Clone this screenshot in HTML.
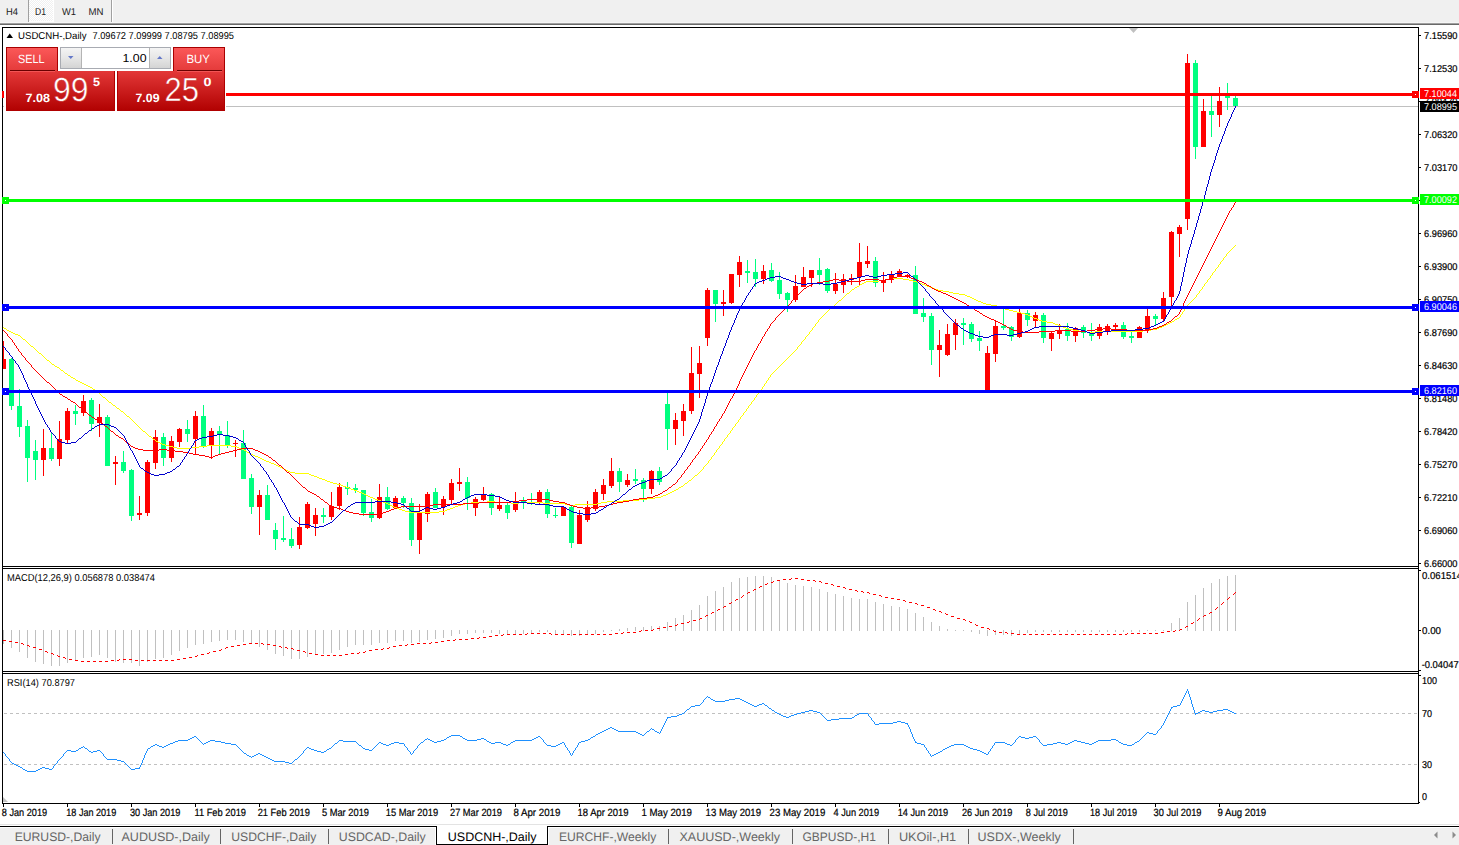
<!DOCTYPE html><html><head><meta charset="utf-8"><style>
html,body{margin:0;padding:0;background:#f0f0f0;width:1459px;height:845px;overflow:hidden}
svg{display:block}
text{font-family:"Liberation Sans",sans-serif;text-rendering:geometricPrecision}
</style></head><body>
<svg width="1459" height="845" viewBox="0 0 1459 845">
<defs>
<pattern id="chk" width="2" height="2" patternUnits="userSpaceOnUse"><rect width="2" height="2" fill="#f0f0f0"/><rect width="1" height="1" fill="#ffffff"/><rect x="1" y="1" width="1" height="1" fill="#ffffff"/></pattern>
<linearGradient id="gTop" x1="0" y1="0" x2="0" y2="1"><stop offset="0" stop-color="#fb5858"/><stop offset="1" stop-color="#e43a3a"/></linearGradient>
<linearGradient id="gBot" x1="0" y1="0" x2="0" y2="1"><stop offset="0" stop-color="#e33838"/><stop offset="1" stop-color="#b20202"/></linearGradient>
<linearGradient id="gBtn" x1="0" y1="0" x2="0" y2="1"><stop offset="0" stop-color="#f4f4f4"/><stop offset="0.5" stop-color="#e6e6e6"/><stop offset="1" stop-color="#d4d4d4"/></linearGradient>
</defs>
<rect x="0" y="0" width="1459" height="22" fill="#f0f0f0"/>
<rect x="29" y="0" width="24" height="21" fill="url(#chk)"/>
<rect x="53" y="0" width="1" height="22" fill="#ffffff"/><rect x="28" y="21" width="26" height="1" fill="#ffffff"/>
<rect x="28" y="0" width="1" height="22" fill="#a0a0a0"/>
<rect x="111" y="0" width="1" height="22" fill="#a0a0a0"/><rect x="112" y="0" width="1" height="22" fill="#ffffff"/>
<rect x="0" y="22" width="1459" height="1" fill="#f6f6f6"/>
<rect x="0" y="23" width="1459" height="1" fill="#a0a0a0"/>
<rect x="0" y="24" width="1459" height="1" fill="#696969"/>
<text x="6" y="15" font-size="10" fill="#222" textLength="12" lengthAdjust="spacingAndGlyphs">H4</text>
<text x="35" y="15" font-size="10" fill="#222" textLength="11" lengthAdjust="spacingAndGlyphs">D1</text>
<text x="62" y="15" font-size="10" fill="#222" textLength="14" lengthAdjust="spacingAndGlyphs">W1</text>
<text x="88.5" y="15" font-size="10" fill="#222" textLength="15" lengthAdjust="spacingAndGlyphs">MN</text>
<rect x="0" y="25" width="1459" height="799" fill="#ffffff"/>
<defs><clipPath id="cMain"><rect x="3" y="28" width="1415" height="538"/></clipPath><clipPath id="cMacd"><rect x="3" y="569" width="1415" height="102"/></clipPath><clipPath id="cRsi"><rect x="3" y="674" width="1415" height="129"/></clipPath></defs>
<rect x="3" y="106" width="1415" height="1" fill="#c0c0c0" shape-rendering="crispEdges"/>
<g clip-path="url(#cMain)" shape-rendering="crispEdges">
<rect x="3" y="341" width="1" height="28" fill="#ff0000"/>
<rect x="1" y="359" width="5" height="10" fill="#ff0000"/>
<rect x="11" y="358" width="1" height="52" fill="#00ff7f"/>
<rect x="9" y="359" width="5" height="47" fill="#00ff7f"/>
<rect x="19" y="389" width="1" height="48" fill="#00ff7f"/>
<rect x="17" y="406" width="5" height="21" fill="#00ff7f"/>
<rect x="27" y="420" width="1" height="62" fill="#00ff7f"/>
<rect x="25" y="426" width="5" height="32" fill="#00ff7f"/>
<rect x="35" y="440" width="1" height="40" fill="#00ff7f"/>
<rect x="33" y="451" width="5" height="9" fill="#00ff7f"/>
<rect x="43" y="429" width="1" height="47" fill="#ff0000"/>
<rect x="41" y="448" width="5" height="12" fill="#ff0000"/>
<rect x="51" y="432" width="1" height="29" fill="#00ff7f"/>
<rect x="49" y="448" width="5" height="11" fill="#00ff7f"/>
<rect x="59" y="421" width="1" height="45" fill="#ff0000"/>
<rect x="57" y="439" width="5" height="20" fill="#ff0000"/>
<rect x="67" y="408" width="1" height="36" fill="#ff0000"/>
<rect x="65" y="411" width="5" height="29" fill="#ff0000"/>
<rect x="75" y="405" width="1" height="20" fill="#00ff7f"/>
<rect x="73" y="411" width="5" height="3" fill="#00ff7f"/>
<rect x="83" y="395" width="1" height="21" fill="#ff0000"/>
<rect x="81" y="401" width="5" height="12" fill="#ff0000"/>
<rect x="91" y="398" width="1" height="33" fill="#00ff7f"/>
<rect x="89" y="400" width="5" height="24" fill="#00ff7f"/>
<rect x="99" y="404" width="1" height="33" fill="#ff0000"/>
<rect x="97" y="417" width="5" height="6" fill="#ff0000"/>
<rect x="107" y="415" width="1" height="51" fill="#00ff7f"/>
<rect x="105" y="417" width="5" height="49" fill="#00ff7f"/>
<rect x="115" y="456" width="1" height="29" fill="#ff0000"/>
<rect x="113" y="462" width="5" height="2" fill="#ff0000"/>
<rect x="123" y="451" width="1" height="22" fill="#00ff7f"/>
<rect x="121" y="462" width="5" height="9" fill="#00ff7f"/>
<rect x="131" y="469" width="1" height="52" fill="#00ff7f"/>
<rect x="129" y="470" width="5" height="46" fill="#00ff7f"/>
<rect x="139" y="496" width="1" height="24" fill="#ff0000"/>
<rect x="137" y="513" width="5" height="2" fill="#ff0000"/>
<rect x="147" y="460" width="1" height="56" fill="#ff0000"/>
<rect x="145" y="462" width="5" height="51" fill="#ff0000"/>
<rect x="155" y="430" width="1" height="39" fill="#ff0000"/>
<rect x="153" y="437" width="5" height="26" fill="#ff0000"/>
<rect x="163" y="433" width="1" height="33" fill="#00ff7f"/>
<rect x="161" y="437" width="5" height="21" fill="#00ff7f"/>
<rect x="171" y="436" width="1" height="26" fill="#ff0000"/>
<rect x="169" y="441" width="5" height="17" fill="#ff0000"/>
<rect x="179" y="428" width="1" height="19" fill="#ff0000"/>
<rect x="177" y="429" width="5" height="13" fill="#ff0000"/>
<rect x="187" y="420" width="1" height="22" fill="#00ff7f"/>
<rect x="185" y="429" width="5" height="5" fill="#00ff7f"/>
<rect x="195" y="411" width="1" height="43" fill="#ff0000"/>
<rect x="193" y="416" width="5" height="23" fill="#ff0000"/>
<rect x="203" y="405" width="1" height="43" fill="#00ff7f"/>
<rect x="201" y="416" width="5" height="30" fill="#00ff7f"/>
<rect x="211" y="428" width="1" height="31" fill="#ff0000"/>
<rect x="209" y="431" width="5" height="15" fill="#ff0000"/>
<rect x="219" y="426" width="1" height="28" fill="#00ff7f"/>
<rect x="217" y="431" width="5" height="4" fill="#00ff7f"/>
<rect x="227" y="421" width="1" height="27" fill="#00ff7f"/>
<rect x="225" y="435" width="5" height="11" fill="#00ff7f"/>
<rect x="235" y="440" width="1" height="17" fill="#ff0000"/>
<rect x="233" y="443" width="5" height="1" fill="#ff0000"/>
<rect x="243" y="430" width="1" height="49" fill="#00ff7f"/>
<rect x="241" y="443" width="5" height="36" fill="#00ff7f"/>
<rect x="251" y="474" width="1" height="40" fill="#00ff7f"/>
<rect x="249" y="478" width="5" height="29" fill="#00ff7f"/>
<rect x="259" y="490" width="1" height="45" fill="#ff0000"/>
<rect x="257" y="495" width="5" height="12" fill="#ff0000"/>
<rect x="267" y="485" width="1" height="35" fill="#00ff7f"/>
<rect x="265" y="495" width="5" height="25" fill="#00ff7f"/>
<rect x="275" y="523" width="1" height="27" fill="#00ff7f"/>
<rect x="273" y="530" width="5" height="9" fill="#00ff7f"/>
<rect x="283" y="516" width="1" height="26" fill="#00ff7f"/>
<rect x="281" y="538" width="5" height="2" fill="#00ff7f"/>
<rect x="291" y="528" width="1" height="20" fill="#00ff7f"/>
<rect x="289" y="539" width="5" height="7" fill="#00ff7f"/>
<rect x="299" y="517" width="1" height="32" fill="#ff0000"/>
<rect x="297" y="527" width="5" height="18" fill="#ff0000"/>
<rect x="307" y="502" width="1" height="27" fill="#ff0000"/>
<rect x="305" y="504" width="5" height="24" fill="#ff0000"/>
<rect x="315" y="508" width="1" height="28" fill="#ff0000"/>
<rect x="313" y="515" width="5" height="9" fill="#ff0000"/>
<rect x="323" y="508" width="1" height="15" fill="#00ff7f"/>
<rect x="321" y="515" width="5" height="2" fill="#00ff7f"/>
<rect x="331" y="492" width="1" height="28" fill="#ff0000"/>
<rect x="329" y="506" width="5" height="11" fill="#ff0000"/>
<rect x="339" y="483" width="1" height="27" fill="#ff0000"/>
<rect x="337" y="487" width="5" height="19" fill="#ff0000"/>
<rect x="347" y="482" width="1" height="13" fill="#00ff7f"/>
<rect x="345" y="487" width="5" height="2" fill="#00ff7f"/>
<rect x="355" y="484" width="1" height="9" fill="#00ff7f"/>
<rect x="353" y="488" width="5" height="2" fill="#00ff7f"/>
<rect x="363" y="490" width="1" height="26" fill="#00ff7f"/>
<rect x="361" y="490" width="5" height="23" fill="#00ff7f"/>
<rect x="371" y="499" width="1" height="23" fill="#00ff7f"/>
<rect x="369" y="512" width="5" height="6" fill="#00ff7f"/>
<rect x="379" y="484" width="1" height="35" fill="#ff0000"/>
<rect x="377" y="497" width="5" height="21" fill="#ff0000"/>
<rect x="387" y="487" width="1" height="23" fill="#00ff7f"/>
<rect x="385" y="497" width="5" height="12" fill="#00ff7f"/>
<rect x="395" y="496" width="1" height="13" fill="#ff0000"/>
<rect x="393" y="498" width="5" height="10" fill="#ff0000"/>
<rect x="403" y="496" width="1" height="12" fill="#00ff7f"/>
<rect x="401" y="498" width="5" height="5" fill="#00ff7f"/>
<rect x="411" y="498" width="1" height="48" fill="#00ff7f"/>
<rect x="409" y="503" width="5" height="37" fill="#00ff7f"/>
<rect x="419" y="504" width="1" height="50" fill="#ff0000"/>
<rect x="417" y="513" width="5" height="27" fill="#ff0000"/>
<rect x="427" y="492" width="1" height="30" fill="#ff0000"/>
<rect x="425" y="494" width="5" height="20" fill="#ff0000"/>
<rect x="435" y="488" width="1" height="20" fill="#00ff7f"/>
<rect x="433" y="492" width="5" height="16" fill="#00ff7f"/>
<rect x="443" y="496" width="1" height="19" fill="#ff0000"/>
<rect x="441" y="499" width="5" height="8" fill="#ff0000"/>
<rect x="451" y="479" width="1" height="25" fill="#ff0000"/>
<rect x="449" y="483" width="5" height="17" fill="#ff0000"/>
<rect x="459" y="468" width="1" height="23" fill="#ff0000"/>
<rect x="457" y="482" width="5" height="2" fill="#ff0000"/>
<rect x="467" y="477" width="1" height="33" fill="#00ff7f"/>
<rect x="465" y="482" width="5" height="16" fill="#00ff7f"/>
<rect x="475" y="497" width="1" height="19" fill="#ff0000"/>
<rect x="473" y="499" width="5" height="9" fill="#ff0000"/>
<rect x="483" y="487" width="1" height="14" fill="#ff0000"/>
<rect x="481" y="495" width="5" height="5" fill="#ff0000"/>
<rect x="491" y="493" width="1" height="22" fill="#00ff7f"/>
<rect x="489" y="494" width="5" height="14" fill="#00ff7f"/>
<rect x="499" y="496" width="1" height="15" fill="#ff0000"/>
<rect x="497" y="505" width="5" height="4" fill="#ff0000"/>
<rect x="507" y="503" width="1" height="16" fill="#00ff7f"/>
<rect x="505" y="505" width="5" height="8" fill="#00ff7f"/>
<rect x="515" y="492" width="1" height="20" fill="#ff0000"/>
<rect x="513" y="504" width="5" height="6" fill="#ff0000"/>
<rect x="523" y="497" width="1" height="12" fill="#00ff7f"/>
<rect x="521" y="501" width="5" height="2" fill="#00ff7f"/>
<rect x="531" y="493" width="1" height="12" fill="#00ff7f"/>
<rect x="529" y="502" width="5" height="1" fill="#00ff7f"/>
<rect x="539" y="490" width="1" height="15" fill="#ff0000"/>
<rect x="537" y="492" width="5" height="11" fill="#ff0000"/>
<rect x="547" y="489" width="1" height="29" fill="#00ff7f"/>
<rect x="545" y="492" width="5" height="22" fill="#00ff7f"/>
<rect x="555" y="508" width="1" height="10" fill="#00ff7f"/>
<rect x="553" y="515" width="5" height="1" fill="#00ff7f"/>
<rect x="563" y="506" width="1" height="10" fill="#ff0000"/>
<rect x="561" y="507" width="5" height="9" fill="#ff0000"/>
<rect x="571" y="506" width="1" height="42" fill="#00ff7f"/>
<rect x="569" y="507" width="5" height="36" fill="#00ff7f"/>
<rect x="579" y="510" width="1" height="34" fill="#ff0000"/>
<rect x="577" y="515" width="5" height="29" fill="#ff0000"/>
<rect x="587" y="501" width="1" height="21" fill="#ff0000"/>
<rect x="585" y="507" width="5" height="13" fill="#ff0000"/>
<rect x="595" y="489" width="1" height="22" fill="#ff0000"/>
<rect x="593" y="492" width="5" height="17" fill="#ff0000"/>
<rect x="603" y="479" width="1" height="21" fill="#ff0000"/>
<rect x="601" y="485" width="5" height="9" fill="#ff0000"/>
<rect x="611" y="458" width="1" height="30" fill="#ff0000"/>
<rect x="609" y="471" width="5" height="15" fill="#ff0000"/>
<rect x="619" y="468" width="1" height="24" fill="#00ff7f"/>
<rect x="617" y="471" width="5" height="11" fill="#00ff7f"/>
<rect x="627" y="474" width="1" height="13" fill="#ff0000"/>
<rect x="625" y="480" width="5" height="5" fill="#ff0000"/>
<rect x="635" y="469" width="1" height="15" fill="#00ff7f"/>
<rect x="633" y="479" width="5" height="2" fill="#00ff7f"/>
<rect x="643" y="478" width="1" height="24" fill="#00ff7f"/>
<rect x="641" y="480" width="5" height="9" fill="#00ff7f"/>
<rect x="651" y="470" width="1" height="24" fill="#ff0000"/>
<rect x="649" y="471" width="5" height="18" fill="#ff0000"/>
<rect x="659" y="467" width="1" height="18" fill="#00ff7f"/>
<rect x="657" y="471" width="5" height="11" fill="#00ff7f"/>
<rect x="667" y="392" width="1" height="58" fill="#00ff7f"/>
<rect x="665" y="404" width="5" height="25" fill="#00ff7f"/>
<rect x="675" y="413" width="1" height="32" fill="#ff0000"/>
<rect x="673" y="420" width="5" height="9" fill="#ff0000"/>
<rect x="683" y="404" width="1" height="32" fill="#ff0000"/>
<rect x="681" y="411" width="5" height="10" fill="#ff0000"/>
<rect x="691" y="347" width="1" height="67" fill="#ff0000"/>
<rect x="689" y="373" width="5" height="38" fill="#ff0000"/>
<rect x="699" y="346" width="1" height="52" fill="#ff0000"/>
<rect x="697" y="363" width="5" height="11" fill="#ff0000"/>
<rect x="707" y="288" width="1" height="58" fill="#ff0000"/>
<rect x="705" y="290" width="5" height="48" fill="#ff0000"/>
<rect x="715" y="290" width="1" height="32" fill="#00ff7f"/>
<rect x="713" y="290" width="5" height="14" fill="#00ff7f"/>
<rect x="723" y="290" width="1" height="26" fill="#ff0000"/>
<rect x="721" y="302" width="5" height="2" fill="#ff0000"/>
<rect x="731" y="274" width="1" height="30" fill="#ff0000"/>
<rect x="729" y="274" width="5" height="29" fill="#ff0000"/>
<rect x="739" y="256" width="1" height="31" fill="#ff0000"/>
<rect x="737" y="262" width="5" height="13" fill="#ff0000"/>
<rect x="747" y="260" width="1" height="23" fill="#00ff7f"/>
<rect x="745" y="271" width="5" height="2" fill="#00ff7f"/>
<rect x="755" y="259" width="1" height="28" fill="#00ff7f"/>
<rect x="753" y="272" width="5" height="7" fill="#00ff7f"/>
<rect x="763" y="265" width="1" height="19" fill="#ff0000"/>
<rect x="761" y="271" width="5" height="8" fill="#ff0000"/>
<rect x="771" y="263" width="1" height="19" fill="#00ff7f"/>
<rect x="769" y="270" width="5" height="11" fill="#00ff7f"/>
<rect x="779" y="272" width="1" height="27" fill="#00ff7f"/>
<rect x="777" y="280" width="5" height="14" fill="#00ff7f"/>
<rect x="787" y="292" width="1" height="20" fill="#00ff7f"/>
<rect x="785" y="293" width="5" height="7" fill="#00ff7f"/>
<rect x="795" y="275" width="1" height="27" fill="#ff0000"/>
<rect x="793" y="286" width="5" height="14" fill="#ff0000"/>
<rect x="803" y="267" width="1" height="20" fill="#ff0000"/>
<rect x="801" y="277" width="5" height="10" fill="#ff0000"/>
<rect x="811" y="270" width="1" height="17" fill="#ff0000"/>
<rect x="809" y="270" width="5" height="8" fill="#ff0000"/>
<rect x="819" y="258" width="1" height="27" fill="#00ff7f"/>
<rect x="817" y="270" width="5" height="5" fill="#00ff7f"/>
<rect x="827" y="268" width="1" height="25" fill="#00ff7f"/>
<rect x="825" y="269" width="5" height="22" fill="#00ff7f"/>
<rect x="835" y="273" width="1" height="21" fill="#ff0000"/>
<rect x="833" y="284" width="5" height="7" fill="#ff0000"/>
<rect x="843" y="274" width="1" height="19" fill="#ff0000"/>
<rect x="841" y="279" width="5" height="6" fill="#ff0000"/>
<rect x="851" y="274" width="1" height="11" fill="#ff0000"/>
<rect x="849" y="278" width="5" height="2" fill="#ff0000"/>
<rect x="859" y="243" width="1" height="42" fill="#ff0000"/>
<rect x="857" y="262" width="5" height="15" fill="#ff0000"/>
<rect x="867" y="246" width="1" height="22" fill="#ff0000"/>
<rect x="865" y="261" width="5" height="3" fill="#ff0000"/>
<rect x="875" y="257" width="1" height="30" fill="#00ff7f"/>
<rect x="873" y="261" width="5" height="22" fill="#00ff7f"/>
<rect x="883" y="272" width="1" height="20" fill="#ff0000"/>
<rect x="881" y="280" width="5" height="3" fill="#ff0000"/>
<rect x="891" y="271" width="1" height="12" fill="#ff0000"/>
<rect x="889" y="275" width="5" height="5" fill="#ff0000"/>
<rect x="899" y="269" width="1" height="8" fill="#ff0000"/>
<rect x="897" y="271" width="5" height="6" fill="#ff0000"/>
<rect x="907" y="274" width="1" height="4" fill="#ff0000"/>
<rect x="905" y="275" width="5" height="2" fill="#ff0000"/>
<rect x="915" y="266" width="1" height="48" fill="#00ff7f"/>
<rect x="913" y="275" width="5" height="39" fill="#00ff7f"/>
<rect x="923" y="298" width="1" height="24" fill="#00ff7f"/>
<rect x="921" y="313" width="5" height="4" fill="#00ff7f"/>
<rect x="931" y="313" width="1" height="52" fill="#00ff7f"/>
<rect x="929" y="316" width="5" height="34" fill="#00ff7f"/>
<rect x="939" y="330" width="1" height="47" fill="#ff0000"/>
<rect x="937" y="345" width="5" height="5" fill="#ff0000"/>
<rect x="947" y="324" width="1" height="32" fill="#ff0000"/>
<rect x="945" y="334" width="5" height="21" fill="#ff0000"/>
<rect x="955" y="319" width="1" height="31" fill="#ff0000"/>
<rect x="953" y="323" width="5" height="12" fill="#ff0000"/>
<rect x="963" y="318" width="1" height="27" fill="#00ff7f"/>
<rect x="961" y="323" width="5" height="2" fill="#00ff7f"/>
<rect x="971" y="322" width="1" height="20" fill="#00ff7f"/>
<rect x="969" y="324" width="5" height="15" fill="#00ff7f"/>
<rect x="979" y="331" width="1" height="20" fill="#00ff7f"/>
<rect x="977" y="338" width="5" height="3" fill="#00ff7f"/>
<rect x="987" y="346" width="1" height="44" fill="#ff0000"/>
<rect x="985" y="353" width="5" height="37" fill="#ff0000"/>
<rect x="995" y="321" width="1" height="41" fill="#ff0000"/>
<rect x="993" y="326" width="5" height="28" fill="#ff0000"/>
<rect x="1003" y="306" width="1" height="24" fill="#00ff7f"/>
<rect x="1001" y="326" width="5" height="2" fill="#00ff7f"/>
<rect x="1011" y="326" width="1" height="15" fill="#00ff7f"/>
<rect x="1009" y="327" width="5" height="10" fill="#00ff7f"/>
<rect x="1019" y="308" width="1" height="30" fill="#ff0000"/>
<rect x="1017" y="313" width="5" height="24" fill="#ff0000"/>
<rect x="1027" y="310" width="1" height="16" fill="#00ff7f"/>
<rect x="1025" y="313" width="5" height="7" fill="#00ff7f"/>
<rect x="1035" y="312" width="1" height="15" fill="#ff0000"/>
<rect x="1033" y="315" width="5" height="6" fill="#ff0000"/>
<rect x="1043" y="313" width="1" height="30" fill="#00ff7f"/>
<rect x="1041" y="315" width="5" height="23" fill="#00ff7f"/>
<rect x="1051" y="332" width="1" height="19" fill="#ff0000"/>
<rect x="1049" y="333" width="5" height="6" fill="#ff0000"/>
<rect x="1059" y="324" width="1" height="15" fill="#ff0000"/>
<rect x="1057" y="330" width="5" height="4" fill="#ff0000"/>
<rect x="1067" y="323" width="1" height="18" fill="#00ff7f"/>
<rect x="1065" y="329" width="5" height="7" fill="#00ff7f"/>
<rect x="1075" y="327" width="1" height="15" fill="#ff0000"/>
<rect x="1073" y="328" width="5" height="8" fill="#ff0000"/>
<rect x="1083" y="325" width="1" height="13" fill="#00ff7f"/>
<rect x="1081" y="327" width="5" height="6" fill="#00ff7f"/>
<rect x="1091" y="323" width="1" height="18" fill="#00ff7f"/>
<rect x="1089" y="333" width="5" height="3" fill="#00ff7f"/>
<rect x="1099" y="324" width="1" height="15" fill="#ff0000"/>
<rect x="1097" y="327" width="5" height="9" fill="#ff0000"/>
<rect x="1107" y="324" width="1" height="11" fill="#ff0000"/>
<rect x="1105" y="326" width="5" height="6" fill="#ff0000"/>
<rect x="1115" y="323" width="1" height="6" fill="#ff0000"/>
<rect x="1113" y="325" width="5" height="2" fill="#ff0000"/>
<rect x="1123" y="322" width="1" height="17" fill="#00ff7f"/>
<rect x="1121" y="325" width="5" height="12" fill="#00ff7f"/>
<rect x="1131" y="331" width="1" height="12" fill="#00ff7f"/>
<rect x="1129" y="336" width="5" height="2" fill="#00ff7f"/>
<rect x="1139" y="326" width="1" height="12" fill="#ff0000"/>
<rect x="1137" y="327" width="5" height="11" fill="#ff0000"/>
<rect x="1147" y="309" width="1" height="24" fill="#ff0000"/>
<rect x="1145" y="316" width="5" height="15" fill="#ff0000"/>
<rect x="1155" y="314" width="1" height="12" fill="#00ff7f"/>
<rect x="1153" y="316" width="5" height="3" fill="#00ff7f"/>
<rect x="1163" y="292" width="1" height="29" fill="#ff0000"/>
<rect x="1161" y="298" width="5" height="21" fill="#ff0000"/>
<rect x="1171" y="231" width="1" height="76" fill="#ff0000"/>
<rect x="1169" y="232" width="5" height="65" fill="#ff0000"/>
<rect x="1179" y="225" width="1" height="32" fill="#ff0000"/>
<rect x="1177" y="227" width="5" height="7" fill="#ff0000"/>
<rect x="1187" y="54" width="1" height="176" fill="#ff0000"/>
<rect x="1185" y="63" width="5" height="156" fill="#ff0000"/>
<rect x="1195" y="60" width="1" height="99" fill="#00ff7f"/>
<rect x="1193" y="63" width="5" height="84" fill="#00ff7f"/>
<rect x="1203" y="99" width="1" height="48" fill="#ff0000"/>
<rect x="1201" y="111" width="5" height="36" fill="#ff0000"/>
<rect x="1211" y="96" width="1" height="41" fill="#00ff7f"/>
<rect x="1209" y="111" width="5" height="4" fill="#00ff7f"/>
<rect x="1219" y="87" width="1" height="40" fill="#ff0000"/>
<rect x="1217" y="101" width="5" height="14" fill="#ff0000"/>
<rect x="1227" y="83" width="1" height="27" fill="#00ff7f"/>
<rect x="1225" y="96" width="5" height="2" fill="#00ff7f"/>
<rect x="1235" y="95" width="1" height="12" fill="#00ff7f"/>
<rect x="1233" y="98" width="5" height="8" fill="#00ff7f"/>
</g>
<g clip-path="url(#cMain)" shape-rendering="crispEdges">
<path d="M1235 245h1v1h-1zM1234 246h1v1h-1zM1233 247h1v1h-1zM1232 248h1v1h-1zM1231 249h1v1h-1zM1230 250h1v1h-1zM1229 251h1v1h-1zM1228 252h1v1h-1zM1227 253h1v1h-1zM1226 254h1v1h-1zM1226 255h1v1h-1zM1225 256h1v1h-1zM1224 257h1v1h-1zM1223 258h1v1h-1zM1223 259h1v1h-1zM1222 260h1v1h-1zM1221 261h1v1h-1zM1220 262h1v1h-1zM1220 263h1v1h-1zM1219 264h1v1h-1zM1218 265h1v1h-1zM1218 266h1v1h-1zM1217 267h1v1h-1zM1216 268h1v1h-1zM1215 269h1v1h-1zM1215 270h1v1h-1zM1214 271h1v1h-1zM1213 272h1v1h-1zM1212 273h1v1h-1zM1212 274h1v1h-1zM1211 275h1v1h-1zM1210 276h1v1h-1zM1210 277h1v1h-1zM889 278h14v1h-14zM1209 278h1v1h-1zM885 279h4v1h-4zM903 279h6v1h-6zM1208 279h1v1h-1zM879 280h6v1h-6zM909 280h4v1h-4zM1207 280h1v1h-1zM866 281h13v1h-13zM913 281h4v1h-4zM1207 281h1v1h-1zM864 282h2v1h-2zM917 282h2v1h-2zM1206 282h1v1h-1zM862 283h2v1h-2zM919 283h3v1h-3zM1205 283h1v1h-1zM860 284h2v1h-2zM922 284h3v1h-3zM1204 284h1v1h-1zM859 285h1v1h-1zM925 285h2v1h-2zM1204 285h1v1h-1zM857 286h2v1h-2zM927 286h3v1h-3zM1203 286h1v1h-1zM855 287h2v1h-2zM930 287h3v1h-3zM1202 287h1v1h-1zM854 288h1v1h-1zM933 288h2v1h-2zM1202 288h1v1h-1zM852 289h2v1h-2zM935 289h3v1h-3zM1201 289h1v1h-1zM851 290h1v1h-1zM938 290h5v1h-5zM1200 290h1v1h-1zM850 291h1v1h-1zM943 291h6v1h-6zM1199 291h1v1h-1zM849 292h1v1h-1zM949 292h4v1h-4zM1199 292h1v1h-1zM847 293h2v1h-2zM953 293h6v1h-6zM1198 293h1v1h-1zM846 294h1v1h-1zM959 294h6v1h-6zM1197 294h1v1h-1zM845 295h1v1h-1zM965 295h2v1h-2zM1196 295h1v1h-1zM844 296h1v1h-1zM967 296h3v1h-3zM1196 296h1v1h-1zM843 297h1v1h-1zM970 297h2v1h-2zM1195 297h1v1h-1zM842 298h1v1h-1zM972 298h2v1h-2zM1194 298h1v1h-1zM841 299h1v1h-1zM974 299h2v1h-2zM1193 299h1v1h-1zM839 300h2v1h-2zM976 300h2v1h-2zM1192 300h1v1h-1zM838 301h1v1h-1zM978 301h3v1h-3zM1191 301h1v1h-1zM837 302h1v1h-1zM981 302h2v1h-2zM1190 302h1v1h-1zM836 303h1v1h-1zM983 303h3v1h-3zM1189 303h1v1h-1zM835 304h1v1h-1zM986 304h5v1h-5zM1188 304h1v1h-1zM834 305h1v1h-1zM991 305h6v1h-6zM1187 305h1v1h-1zM833 306h1v1h-1zM997 306h2v1h-2zM1186 306h1v1h-1zM831 307h2v1h-2zM999 307h3v1h-3zM1186 307h1v1h-1zM830 308h1v1h-1zM1002 308h3v1h-3zM1185 308h1v1h-1zM829 309h1v1h-1zM1005 309h4v1h-4zM1184 309h1v1h-1zM828 310h1v1h-1zM1009 310h4v1h-4zM1184 310h1v1h-1zM827 311h1v1h-1zM1013 311h4v1h-4zM1183 311h1v1h-1zM826 312h1v1h-1zM1017 312h4v1h-4zM1182 312h1v1h-1zM825 313h1v1h-1zM1021 313h4v1h-4zM1182 313h1v1h-1zM824 314h1v1h-1zM1025 314h3v1h-3zM1181 314h1v1h-1zM823 315h1v1h-1zM1028 315h2v1h-2zM1180 315h1v1h-1zM822 316h1v1h-1zM1030 316h2v1h-2zM1180 316h1v1h-1zM821 317h1v1h-1zM1032 317h2v1h-2zM1179 317h1v1h-1zM820 318h1v1h-1zM1034 318h3v1h-3zM1177 318h2v1h-2zM819 319h1v1h-1zM1037 319h2v1h-2zM1175 319h2v1h-2zM818 320h1v1h-1zM1039 320h3v1h-3zM1174 320h1v1h-1zM818 321h1v1h-1zM1042 321h5v1h-5zM1172 321h2v1h-2zM817 322h1v1h-1zM1047 322h6v1h-6zM1170 322h2v1h-2zM816 323h1v1h-1zM1053 323h2v1h-2zM1168 323h2v1h-2zM815 324h1v1h-1zM1055 324h3v1h-3zM1166 324h2v1h-2zM815 325h1v1h-1zM1058 325h3v1h-3zM1164 325h2v1h-2zM814 326h1v1h-1zM1061 326h2v1h-2zM1162 326h2v1h-2zM3 327h1v1h-1zM813 327h1v1h-1zM1063 327h3v1h-3zM1159 327h3v1h-3zM4 328h2v1h-2zM812 328h1v1h-1zM1066 328h3v1h-3zM1157 328h2v1h-2zM6 329h1v1h-1zM812 329h1v1h-1zM1069 329h4v1h-4zM1151 329h6v1h-6zM7 330h2v1h-2zM811 330h1v1h-1zM1073 330h6v1h-6zM1143 330h8v1h-8zM9 331h2v1h-2zM810 331h1v1h-1zM1079 331h8v1h-8zM1095 331h48v1h-48zM11 332h2v1h-2zM809 332h1v1h-1zM1087 332h8v1h-8zM13 333h2v1h-2zM809 333h1v1h-1zM15 334h3v1h-3zM808 334h1v1h-1zM18 335h2v1h-2zM807 335h1v1h-1zM20 336h1v1h-1zM806 336h1v1h-1zM21 337h1v1h-1zM805 337h1v1h-1zM22 338h1v1h-1zM805 338h1v1h-1zM23 339h2v1h-2zM804 339h1v1h-1zM25 340h1v1h-1zM803 340h1v1h-1zM26 341h1v1h-1zM802 341h1v1h-1zM27 342h1v1h-1zM801 342h1v1h-1zM28 343h1v1h-1zM801 343h1v1h-1zM29 344h1v1h-1zM800 344h1v1h-1zM30 345h1v1h-1zM799 345h1v1h-1zM31 346h2v1h-2zM798 346h1v1h-1zM33 347h1v1h-1zM797 347h1v1h-1zM34 348h1v1h-1zM797 348h1v1h-1zM35 349h1v1h-1zM796 349h1v1h-1zM36 350h1v1h-1zM795 350h1v1h-1zM37 351h1v1h-1zM794 351h1v1h-1zM38 352h1v1h-1zM793 352h1v1h-1zM39 353h2v1h-2zM792 353h1v1h-1zM41 354h1v1h-1zM791 354h1v1h-1zM42 355h1v1h-1zM790 355h1v1h-1zM43 356h1v1h-1zM789 356h1v1h-1zM44 357h1v1h-1zM788 357h1v1h-1zM45 358h1v1h-1zM787 358h1v1h-1zM46 359h1v1h-1zM786 359h1v1h-1zM47 360h2v1h-2zM785 360h1v1h-1zM49 361h1v1h-1zM784 361h1v1h-1zM50 362h1v1h-1zM783 362h1v1h-1zM51 363h1v1h-1zM782 363h1v1h-1zM52 364h2v1h-2zM781 364h1v1h-1zM54 365h1v1h-1zM780 365h1v1h-1zM55 366h2v1h-2zM779 366h1v1h-1zM57 367h2v1h-2zM778 367h1v1h-1zM59 368h1v1h-1zM777 368h1v1h-1zM60 369h1v1h-1zM776 369h1v1h-1zM61 370h2v1h-2zM775 370h1v1h-1zM63 371h1v1h-1zM774 371h1v1h-1zM64 372h1v1h-1zM773 372h1v1h-1zM65 373h2v1h-2zM772 373h1v1h-1zM67 374h1v1h-1zM771 374h1v1h-1zM68 375h2v1h-2zM770 375h1v1h-1zM70 376h1v1h-1zM770 376h1v1h-1zM71 377h2v1h-2zM769 377h1v1h-1zM73 378h2v1h-2zM768 378h1v1h-1zM75 379h1v1h-1zM768 379h1v1h-1zM76 380h2v1h-2zM767 380h1v1h-1zM78 381h2v1h-2zM766 381h1v1h-1zM80 382h2v1h-2zM766 382h1v1h-1zM82 383h2v1h-2zM765 383h1v1h-1zM84 384h2v1h-2zM764 384h1v1h-1zM86 385h2v1h-2zM764 385h1v1h-1zM88 386h2v1h-2zM763 386h1v1h-1zM90 387h2v1h-2zM762 387h1v1h-1zM92 388h1v1h-1zM762 388h1v1h-1zM93 389h2v1h-2zM761 389h1v1h-1zM95 390h1v1h-1zM760 390h1v1h-1zM96 391h1v1h-1zM759 391h1v1h-1zM97 392h2v1h-2zM759 392h1v1h-1zM99 393h1v1h-1zM758 393h1v1h-1zM100 394h1v1h-1zM757 394h1v1h-1zM101 395h1v1h-1zM756 395h1v1h-1zM102 396h1v1h-1zM756 396h1v1h-1zM103 397h2v1h-2zM755 397h1v1h-1zM105 398h1v1h-1zM754 398h1v1h-1zM106 399h1v1h-1zM754 399h1v1h-1zM107 400h1v1h-1zM753 400h1v1h-1zM108 401h1v1h-1zM752 401h1v1h-1zM109 402h2v1h-2zM751 402h1v1h-1zM111 403h1v1h-1zM751 403h1v1h-1zM112 404h1v1h-1zM750 404h1v1h-1zM113 405h2v1h-2zM749 405h1v1h-1zM115 406h1v1h-1zM748 406h1v1h-1zM116 407h1v1h-1zM748 407h1v1h-1zM117 408h2v1h-2zM747 408h1v1h-1zM119 409h1v1h-1zM746 409h1v1h-1zM120 410h1v1h-1zM746 410h1v1h-1zM121 411h2v1h-2zM745 411h1v1h-1zM123 412h1v1h-1zM744 412h1v1h-1zM124 413h1v1h-1zM743 413h1v1h-1zM125 414h1v1h-1zM743 414h1v1h-1zM126 415h1v1h-1zM742 415h1v1h-1zM127 416h2v1h-2zM741 416h1v1h-1zM129 417h1v1h-1zM740 417h1v1h-1zM130 418h1v1h-1zM740 418h1v1h-1zM131 419h1v1h-1zM739 419h1v1h-1zM132 420h1v1h-1zM738 420h1v1h-1zM133 421h1v1h-1zM738 421h1v1h-1zM134 422h1v1h-1zM737 422h1v1h-1zM135 423h1v1h-1zM736 423h1v1h-1zM136 424h1v1h-1zM735 424h1v1h-1zM137 425h1v1h-1zM735 425h1v1h-1zM138 426h1v1h-1zM734 426h1v1h-1zM139 427h1v1h-1zM733 427h1v1h-1zM140 428h1v1h-1zM732 428h1v1h-1zM141 429h1v1h-1zM732 429h1v1h-1zM142 430h1v1h-1zM731 430h1v1h-1zM143 431h2v1h-2zM730 431h1v1h-1zM145 432h1v1h-1zM730 432h1v1h-1zM146 433h1v1h-1zM729 433h1v1h-1zM147 434h1v1h-1zM728 434h1v1h-1zM148 435h1v1h-1zM727 435h1v1h-1zM149 436h2v1h-2zM727 436h1v1h-1zM151 437h1v1h-1zM726 437h1v1h-1zM152 438h1v1h-1zM725 438h1v1h-1zM153 439h2v1h-2zM724 439h1v1h-1zM155 440h1v1h-1zM724 440h1v1h-1zM156 441h2v1h-2zM723 441h1v1h-1zM158 442h2v1h-2zM722 442h1v1h-1zM160 443h2v1h-2zM722 443h1v1h-1zM162 444h3v1h-3zM721 444h1v1h-1zM165 445h4v1h-4zM207 445h24v1h-24zM720 445h1v1h-1zM169 446h4v1h-4zM199 446h8v1h-8zM231 446h6v1h-6zM719 446h1v1h-1zM173 447h4v1h-4zM191 447h8v1h-8zM237 447h2v1h-2zM719 447h1v1h-1zM177 448h14v1h-14zM239 448h3v1h-3zM718 448h1v1h-1zM242 449h2v1h-2zM717 449h1v1h-1zM244 450h2v1h-2zM716 450h1v1h-1zM246 451h1v1h-1zM716 451h1v1h-1zM247 452h2v1h-2zM715 452h1v1h-1zM249 453h2v1h-2zM714 453h1v1h-1zM251 454h2v1h-2zM714 454h1v1h-1zM253 455h2v1h-2zM713 455h1v1h-1zM255 456h3v1h-3zM712 456h1v1h-1zM258 457h2v1h-2zM711 457h1v1h-1zM260 458h2v1h-2zM711 458h1v1h-1zM262 459h2v1h-2zM710 459h1v1h-1zM264 460h2v1h-2zM709 460h1v1h-1zM266 461h3v1h-3zM708 461h1v1h-1zM269 462h2v1h-2zM708 462h1v1h-1zM271 463h3v1h-3zM707 463h1v1h-1zM274 464h2v1h-2zM706 464h1v1h-1zM276 465h2v1h-2zM705 465h1v1h-1zM278 466h2v1h-2zM704 466h1v1h-1zM280 467h2v1h-2zM703 467h1v1h-1zM282 468h2v1h-2zM703 468h1v1h-1zM284 469h2v1h-2zM702 469h1v1h-1zM286 470h2v1h-2zM701 470h1v1h-1zM288 471h2v1h-2zM700 471h1v1h-1zM290 472h5v1h-5zM699 472h1v1h-1zM295 473h14v1h-14zM698 473h1v1h-1zM309 474h2v1h-2zM697 474h1v1h-1zM311 475h3v1h-3zM695 475h2v1h-2zM314 476h3v1h-3zM694 476h1v1h-1zM317 477h2v1h-2zM693 477h1v1h-1zM319 478h3v1h-3zM692 478h1v1h-1zM322 479h3v1h-3zM691 479h1v1h-1zM325 480h2v1h-2zM689 480h2v1h-2zM327 481h3v1h-3zM688 481h1v1h-1zM330 482h3v1h-3zM687 482h1v1h-1zM333 483h4v1h-4zM685 483h2v1h-2zM337 484h4v1h-4zM684 484h1v1h-1zM341 485h2v1h-2zM683 485h1v1h-1zM343 486h3v1h-3zM681 486h2v1h-2zM346 487h3v1h-3zM679 487h2v1h-2zM349 488h2v1h-2zM678 488h1v1h-1zM351 489h3v1h-3zM676 489h2v1h-2zM354 490h3v1h-3zM674 490h2v1h-2zM357 491h2v1h-2zM672 491h2v1h-2zM359 492h3v1h-3zM670 492h2v1h-2zM362 493h2v1h-2zM668 493h2v1h-2zM364 494h2v1h-2zM666 494h2v1h-2zM366 495h2v1h-2zM663 495h3v1h-3zM368 496h2v1h-2zM661 496h2v1h-2zM370 497h3v1h-3zM655 497h6v1h-6zM373 498h2v1h-2zM647 498h8v1h-8zM375 499h3v1h-3zM639 499h8v1h-8zM378 500h3v1h-3zM623 500h16v1h-16zM381 501h2v1h-2zM487 501h8v1h-8zM607 501h16v1h-16zM383 502h3v1h-3zM471 502h16v1h-16zM495 502h16v1h-16zM519 502h24v1h-24zM601 502h6v1h-6zM386 503h2v1h-2zM465 503h6v1h-6zM511 503h8v1h-8zM543 503h22v1h-22zM597 503h4v1h-4zM388 504h2v1h-2zM461 504h4v1h-4zM565 504h4v1h-4zM575 504h22v1h-22zM390 505h2v1h-2zM458 505h3v1h-3zM569 505h6v1h-6zM392 506h2v1h-2zM455 506h3v1h-3zM394 507h3v1h-3zM453 507h2v1h-2zM397 508h2v1h-2zM450 508h3v1h-3zM399 509h3v1h-3zM447 509h3v1h-3zM402 510h3v1h-3zM445 510h2v1h-2zM405 511h4v1h-4zM439 511h6v1h-6zM409 512h30v1h-30z" fill="#ffff00"/>
<path d="M1235 202h1v1h-1zM1234 203h1v1h-1zM1234 204h1v1h-1zM1233 205h1v1h-1zM1233 206h1v1h-1zM1232 207h1v1h-1zM1231 208h1v1h-1zM1231 209h1v1h-1zM1230 210h1v1h-1zM1229 211h1v1h-1zM1229 212h1v1h-1zM1228 213h1v1h-1zM1228 214h1v1h-1zM1227 215h1v1h-1zM1227 216h1v1h-1zM1226 217h1v1h-1zM1226 218h1v1h-1zM1225 219h1v1h-1zM1225 220h1v1h-1zM1224 221h1v1h-1zM1224 222h1v1h-1zM1223 223h1v1h-1zM1223 224h1v1h-1zM1222 225h1v1h-1zM1222 226h1v1h-1zM1221 227h1v1h-1zM1221 228h1v1h-1zM1220 229h1v1h-1zM1220 230h1v1h-1zM1219 231h1v1h-1zM1219 232h1v1h-1zM1218 233h1v1h-1zM1218 234h1v1h-1zM1217 235h1v1h-1zM1217 236h1v1h-1zM1216 237h1v1h-1zM1216 238h1v1h-1zM1215 239h1v1h-1zM1215 240h1v1h-1zM1214 241h1v1h-1zM1214 242h1v1h-1zM1213 243h1v1h-1zM1213 244h1v1h-1zM1212 245h1v1h-1zM1212 246h1v1h-1zM1211 247h1v1h-1zM1211 248h1v1h-1zM1210 249h1v1h-1zM1210 250h1v1h-1zM1209 251h1v1h-1zM1209 252h1v1h-1zM1208 253h1v1h-1zM1208 254h1v1h-1zM1207 255h1v1h-1zM1207 256h1v1h-1zM1206 257h1v1h-1zM1206 258h1v1h-1zM1205 259h1v1h-1zM1205 260h1v1h-1zM1204 261h1v1h-1zM1204 262h1v1h-1zM1203 263h1v1h-1zM1203 264h1v1h-1zM1202 265h1v1h-1zM1202 266h1v1h-1zM1201 267h1v1h-1zM1201 268h1v1h-1zM1200 269h1v1h-1zM1200 270h1v1h-1zM1199 271h1v1h-1zM1199 272h1v1h-1zM1198 273h1v1h-1zM1198 274h1v1h-1zM1197 275h1v1h-1zM897 276h12v1h-12zM1197 276h1v1h-1zM893 277h4v1h-4zM909 277h2v1h-2zM1196 277h1v1h-1zM889 278h4v1h-4zM911 278h3v1h-3zM1196 278h1v1h-1zM833 279h6v1h-6zM865 279h14v1h-14zM885 279h4v1h-4zM914 279h3v1h-3zM1195 279h1v1h-1zM829 280h4v1h-4zM839 280h8v1h-8zM861 280h4v1h-4zM879 280h6v1h-6zM917 280h2v1h-2zM1195 280h1v1h-1zM823 281h6v1h-6zM847 281h14v1h-14zM919 281h3v1h-3zM1194 281h1v1h-1zM817 282h6v1h-6zM922 282h2v1h-2zM1194 282h1v1h-1zM813 283h4v1h-4zM924 283h2v1h-2zM1193 283h1v1h-1zM811 284h2v1h-2zM926 284h1v1h-1zM1193 284h1v1h-1zM809 285h2v1h-2zM927 285h2v1h-2zM1192 285h1v1h-1zM807 286h2v1h-2zM929 286h2v1h-2zM1192 286h1v1h-1zM806 287h1v1h-1zM931 287h1v1h-1zM1191 287h1v1h-1zM804 288h2v1h-2zM932 288h2v1h-2zM1191 288h1v1h-1zM803 289h1v1h-1zM934 289h2v1h-2zM1190 289h1v1h-1zM802 290h1v1h-1zM936 290h2v1h-2zM1190 290h1v1h-1zM801 291h1v1h-1zM938 291h3v1h-3zM1189 291h1v1h-1zM800 292h1v1h-1zM941 292h2v1h-2zM1189 292h1v1h-1zM799 293h1v1h-1zM943 293h3v1h-3zM1188 293h1v1h-1zM798 294h1v1h-1zM946 294h2v1h-2zM1188 294h1v1h-1zM797 295h1v1h-1zM948 295h2v1h-2zM1187 295h1v1h-1zM796 296h1v1h-1zM950 296h2v1h-2zM1187 296h1v1h-1zM795 297h1v1h-1zM952 297h2v1h-2zM1186 297h1v1h-1zM794 298h1v1h-1zM954 298h2v1h-2zM1186 298h1v1h-1zM793 299h1v1h-1zM956 299h2v1h-2zM1185 299h1v1h-1zM792 300h1v1h-1zM958 300h2v1h-2zM1185 300h1v1h-1zM791 301h1v1h-1zM960 301h2v1h-2zM1184 301h1v1h-1zM791 302h1v1h-1zM962 302h2v1h-2zM1184 302h1v1h-1zM790 303h1v1h-1zM964 303h2v1h-2zM1183 303h1v1h-1zM789 304h1v1h-1zM966 304h1v1h-1zM1183 304h1v1h-1zM788 305h1v1h-1zM967 305h2v1h-2zM1183 305h1v1h-1zM787 306h1v1h-1zM969 306h2v1h-2zM1182 306h1v1h-1zM786 307h1v1h-1zM971 307h1v1h-1zM1182 307h1v1h-1zM785 308h1v1h-1zM972 308h2v1h-2zM1181 308h1v1h-1zM784 309h1v1h-1zM974 309h1v1h-1zM1181 309h1v1h-1zM783 310h1v1h-1zM975 310h2v1h-2zM1180 310h1v1h-1zM782 311h1v1h-1zM977 311h2v1h-2zM1180 311h1v1h-1zM781 312h1v1h-1zM979 312h1v1h-1zM1179 312h1v1h-1zM780 313h1v1h-1zM980 313h2v1h-2zM1179 313h1v1h-1zM779 314h1v1h-1zM982 314h1v1h-1zM1178 314h1v1h-1zM778 315h1v1h-1zM983 315h2v1h-2zM1177 315h1v1h-1zM777 316h1v1h-1zM985 316h2v1h-2zM1175 316h2v1h-2zM776 317h1v1h-1zM987 317h2v1h-2zM1174 317h1v1h-1zM775 318h1v1h-1zM989 318h2v1h-2zM1173 318h1v1h-1zM775 319h1v1h-1zM991 319h3v1h-3zM1172 319h1v1h-1zM774 320h1v1h-1zM994 320h2v1h-2zM1171 320h1v1h-1zM773 321h1v1h-1zM996 321h2v1h-2zM1169 321h2v1h-2zM772 322h1v1h-1zM998 322h2v1h-2zM1167 322h2v1h-2zM771 323h1v1h-1zM1000 323h2v1h-2zM1166 323h1v1h-1zM770 324h1v1h-1zM1002 324h2v1h-2zM1164 324h2v1h-2zM770 325h1v1h-1zM1004 325h2v1h-2zM1162 325h2v1h-2zM769 326h1v1h-1zM1006 326h1v1h-1zM1159 326h3v1h-3zM769 327h1v1h-1zM1007 327h2v1h-2zM1157 327h2v1h-2zM768 328h1v1h-1zM1009 328h2v1h-2zM1103 328h8v1h-8zM1153 328h4v1h-4zM767 329h1v1h-1zM1011 329h2v1h-2zM1095 329h8v1h-8zM1111 329h16v1h-16zM1149 329h4v1h-4zM3 330h1v1h-1zM767 330h1v1h-1zM1013 330h4v1h-4zM1055 330h16v1h-16zM1087 330h8v1h-8zM1127 330h22v1h-22zM4 331h1v1h-1zM766 331h1v1h-1zM1017 331h6v1h-6zM1039 331h16v1h-16zM1071 331h16v1h-16zM5 332h1v1h-1zM765 332h1v1h-1zM1023 332h16v1h-16zM6 333h1v1h-1zM765 333h1v1h-1zM7 334h1v1h-1zM764 334h1v1h-1zM7 335h1v1h-1zM764 335h1v1h-1zM8 336h1v1h-1zM763 336h1v1h-1zM9 337h1v1h-1zM762 337h1v1h-1zM10 338h1v1h-1zM762 338h1v1h-1zM11 339h1v1h-1zM761 339h1v1h-1zM12 340h1v1h-1zM761 340h1v1h-1zM12 341h1v1h-1zM760 341h1v1h-1zM13 342h1v1h-1zM760 342h1v1h-1zM14 343h1v1h-1zM759 343h1v1h-1zM14 344h1v1h-1zM758 344h1v1h-1zM15 345h1v1h-1zM758 345h1v1h-1zM16 346h1v1h-1zM757 346h1v1h-1zM16 347h1v1h-1zM757 347h1v1h-1zM17 348h1v1h-1zM756 348h1v1h-1zM18 349h1v1h-1zM756 349h1v1h-1zM18 350h1v1h-1zM755 350h1v1h-1zM19 351h1v1h-1zM754 351h1v1h-1zM20 352h1v1h-1zM754 352h1v1h-1zM21 353h1v1h-1zM753 353h1v1h-1zM21 354h1v1h-1zM753 354h1v1h-1zM22 355h1v1h-1zM752 355h1v1h-1zM23 356h1v1h-1zM752 356h1v1h-1zM24 357h1v1h-1zM751 357h1v1h-1zM25 358h1v1h-1zM751 358h1v1h-1zM25 359h1v1h-1zM750 359h1v1h-1zM26 360h1v1h-1zM750 360h1v1h-1zM27 361h1v1h-1zM749 361h1v1h-1zM28 362h1v1h-1zM749 362h1v1h-1zM29 363h1v1h-1zM748 363h1v1h-1zM30 364h1v1h-1zM748 364h1v1h-1zM31 365h1v1h-1zM747 365h1v1h-1zM31 366h1v1h-1zM747 366h1v1h-1zM32 367h1v1h-1zM746 367h1v1h-1zM33 368h1v1h-1zM746 368h1v1h-1zM34 369h1v1h-1zM745 369h1v1h-1zM35 370h1v1h-1zM745 370h1v1h-1zM36 371h1v1h-1zM744 371h1v1h-1zM37 372h1v1h-1zM744 372h1v1h-1zM38 373h1v1h-1zM743 373h1v1h-1zM39 374h1v1h-1zM743 374h1v1h-1zM40 375h1v1h-1zM742 375h1v1h-1zM41 376h1v1h-1zM742 376h1v1h-1zM42 377h1v1h-1zM741 377h1v1h-1zM43 378h1v1h-1zM741 378h1v1h-1zM44 379h1v1h-1zM740 379h1v1h-1zM45 380h1v1h-1zM740 380h1v1h-1zM46 381h1v1h-1zM739 381h1v1h-1zM47 382h2v1h-2zM739 382h1v1h-1zM49 383h1v1h-1zM739 383h1v1h-1zM50 384h1v1h-1zM738 384h1v1h-1zM51 385h1v1h-1zM738 385h1v1h-1zM52 386h1v1h-1zM737 386h1v1h-1zM53 387h1v1h-1zM737 387h1v1h-1zM54 388h1v1h-1zM736 388h1v1h-1zM55 389h1v1h-1zM736 389h1v1h-1zM56 390h1v1h-1zM735 390h1v1h-1zM57 391h1v1h-1zM735 391h1v1h-1zM58 392h1v1h-1zM734 392h1v1h-1zM59 393h1v1h-1zM734 393h1v1h-1zM60 394h2v1h-2zM733 394h1v1h-1zM62 395h1v1h-1zM733 395h1v1h-1zM63 396h2v1h-2zM732 396h1v1h-1zM65 397h2v1h-2zM732 397h1v1h-1zM67 398h1v1h-1zM731 398h1v1h-1zM68 399h2v1h-2zM730 399h1v1h-1zM70 400h1v1h-1zM730 400h1v1h-1zM71 401h2v1h-2zM729 401h1v1h-1zM73 402h2v1h-2zM729 402h1v1h-1zM75 403h1v1h-1zM728 403h1v1h-1zM76 404h1v1h-1zM728 404h1v1h-1zM77 405h1v1h-1zM727 405h1v1h-1zM78 406h1v1h-1zM727 406h1v1h-1zM79 407h2v1h-2zM726 407h1v1h-1zM81 408h1v1h-1zM726 408h1v1h-1zM82 409h1v1h-1zM725 409h1v1h-1zM83 410h1v1h-1zM725 410h1v1h-1zM84 411h1v1h-1zM724 411h1v1h-1zM85 412h2v1h-2zM724 412h1v1h-1zM87 413h1v1h-1zM723 413h1v1h-1zM88 414h1v1h-1zM722 414h1v1h-1zM89 415h2v1h-2zM722 415h1v1h-1zM91 416h1v1h-1zM721 416h1v1h-1zM92 417h2v1h-2zM721 417h1v1h-1zM94 418h1v1h-1zM720 418h1v1h-1zM95 419h2v1h-2zM719 419h1v1h-1zM97 420h2v1h-2zM719 420h1v1h-1zM99 421h1v1h-1zM718 421h1v1h-1zM100 422h1v1h-1zM717 422h1v1h-1zM101 423h2v1h-2zM717 423h1v1h-1zM103 424h1v1h-1zM716 424h1v1h-1zM104 425h1v1h-1zM716 425h1v1h-1zM105 426h2v1h-2zM715 426h1v1h-1zM107 427h1v1h-1zM714 427h1v1h-1zM108 428h1v1h-1zM714 428h1v1h-1zM109 429h1v1h-1zM713 429h1v1h-1zM110 430h1v1h-1zM713 430h1v1h-1zM111 431h2v1h-2zM712 431h1v1h-1zM113 432h1v1h-1zM711 432h1v1h-1zM114 433h1v1h-1zM711 433h1v1h-1zM115 434h1v1h-1zM710 434h1v1h-1zM116 435h2v1h-2zM709 435h1v1h-1zM118 436h1v1h-1zM709 436h1v1h-1zM119 437h2v1h-2zM708 437h1v1h-1zM121 438h2v1h-2zM708 438h1v1h-1zM123 439h1v1h-1zM707 439h1v1h-1zM124 440h1v1h-1zM706 440h1v1h-1zM125 441h1v1h-1zM706 441h1v1h-1zM126 442h1v1h-1zM705 442h1v1h-1zM127 443h2v1h-2zM704 443h1v1h-1zM129 444h1v1h-1zM704 444h1v1h-1zM130 445h1v1h-1zM703 445h1v1h-1zM131 446h2v1h-2zM702 446h1v1h-1zM133 447h2v1h-2zM702 447h1v1h-1zM135 448h3v1h-3zM241 448h12v1h-12zM701 448h1v1h-1zM138 449h5v1h-5zM159 449h8v1h-8zM237 449h4v1h-4zM253 449h2v1h-2zM700 449h1v1h-1zM143 450h16v1h-16zM167 450h8v1h-8zM233 450h4v1h-4zM255 450h3v1h-3zM700 450h1v1h-1zM175 451h8v1h-8zM229 451h4v1h-4zM258 451h2v1h-2zM699 451h1v1h-1zM183 452h6v1h-6zM225 452h4v1h-4zM260 452h2v1h-2zM698 452h1v1h-1zM189 453h4v1h-4zM221 453h4v1h-4zM262 453h2v1h-2zM698 453h1v1h-1zM193 454h6v1h-6zM218 454h3v1h-3zM264 454h2v1h-2zM697 454h1v1h-1zM199 455h6v1h-6zM215 455h3v1h-3zM266 455h2v1h-2zM696 455h1v1h-1zM205 456h4v1h-4zM213 456h2v1h-2zM268 456h1v1h-1zM695 456h1v1h-1zM209 457h4v1h-4zM269 457h2v1h-2zM695 457h1v1h-1zM271 458h1v1h-1zM694 458h1v1h-1zM272 459h1v1h-1zM693 459h1v1h-1zM273 460h2v1h-2zM692 460h1v1h-1zM275 461h1v1h-1zM692 461h1v1h-1zM276 462h1v1h-1zM691 462h1v1h-1zM277 463h1v1h-1zM690 463h1v1h-1zM278 464h1v1h-1zM690 464h1v1h-1zM279 465h2v1h-2zM689 465h1v1h-1zM281 466h1v1h-1zM688 466h1v1h-1zM282 467h1v1h-1zM687 467h1v1h-1zM283 468h1v1h-1zM687 468h1v1h-1zM284 469h1v1h-1zM686 469h1v1h-1zM285 470h1v1h-1zM685 470h1v1h-1zM286 471h1v1h-1zM684 471h1v1h-1zM287 472h2v1h-2zM684 472h1v1h-1zM289 473h1v1h-1zM683 473h1v1h-1zM290 474h1v1h-1zM682 474h1v1h-1zM291 475h1v1h-1zM681 475h1v1h-1zM292 476h1v1h-1zM681 476h1v1h-1zM293 477h1v1h-1zM680 477h1v1h-1zM294 478h1v1h-1zM679 478h1v1h-1zM295 479h1v1h-1zM678 479h1v1h-1zM296 480h1v1h-1zM677 480h1v1h-1zM297 481h1v1h-1zM677 481h1v1h-1zM298 482h1v1h-1zM676 482h1v1h-1zM299 483h1v1h-1zM675 483h1v1h-1zM300 484h1v1h-1zM673 484h2v1h-2zM301 485h1v1h-1zM672 485h1v1h-1zM302 486h1v1h-1zM671 486h1v1h-1zM303 487h2v1h-2zM669 487h2v1h-2zM305 488h1v1h-1zM668 488h1v1h-1zM306 489h1v1h-1zM667 489h1v1h-1zM307 490h1v1h-1zM665 490h2v1h-2zM308 491h2v1h-2zM663 491h2v1h-2zM310 492h2v1h-2zM662 492h1v1h-1zM312 493h2v1h-2zM660 493h2v1h-2zM314 494h2v1h-2zM658 494h2v1h-2zM316 495h1v1h-1zM655 495h3v1h-3zM317 496h2v1h-2zM653 496h2v1h-2zM319 497h1v1h-1zM647 497h6v1h-6zM320 498h1v1h-1zM639 498h8v1h-8zM321 499h2v1h-2zM527 499h22v1h-22zM633 499h6v1h-6zM323 500h1v1h-1zM519 500h8v1h-8zM549 500h4v1h-4zM629 500h4v1h-4zM324 501h1v1h-1zM511 501h8v1h-8zM553 501h6v1h-6zM623 501h6v1h-6zM325 502h2v1h-2zM479 502h32v1h-32zM559 502h6v1h-6zM617 502h6v1h-6zM327 503h1v1h-1zM463 503h16v1h-16zM565 503h2v1h-2zM613 503h4v1h-4zM328 504h1v1h-1zM433 504h30v1h-30zM567 504h3v1h-3zM609 504h4v1h-4zM329 505h2v1h-2zM429 505h4v1h-4zM570 505h3v1h-3zM605 505h4v1h-4zM331 506h2v1h-2zM401 506h28v1h-28zM573 506h4v1h-4zM599 506h6v1h-6zM333 507h4v1h-4zM397 507h4v1h-4zM577 507h6v1h-6zM591 507h8v1h-8zM337 508h4v1h-4zM394 508h3v1h-3zM583 508h8v1h-8zM341 509h2v1h-2zM391 509h3v1h-3zM343 510h3v1h-3zM389 510h2v1h-2zM346 511h3v1h-3zM386 511h3v1h-3zM349 512h4v1h-4zM383 512h3v1h-3zM353 513h6v1h-6zM381 513h2v1h-2zM359 514h22v1h-22z" fill="#ff0000"/>
<path d="M1235 106h1v1h-1zM1235 107h1v1h-1zM1234 108h1v1h-1zM1234 109h1v1h-1zM1233 110h1v1h-1zM1233 111h1v1h-1zM1232 112h1v1h-1zM1232 113h1v1h-1zM1231 114h1v1h-1zM1231 115h1v1h-1zM1231 116h1v1h-1zM1230 117h1v1h-1zM1230 118h1v1h-1zM1229 119h1v1h-1zM1229 120h1v1h-1zM1228 121h1v1h-1zM1228 122h1v1h-1zM1227 123h1v1h-1zM1227 124h1v1h-1zM1227 125h1v1h-1zM1226 126h1v1h-1zM1226 127h1v1h-1zM1225 128h1v1h-1zM1225 129h1v1h-1zM1225 130h1v1h-1zM1224 131h1v1h-1zM1224 132h1v1h-1zM1224 133h1v1h-1zM1223 134h1v1h-1zM1223 135h1v1h-1zM1222 136h1v1h-1zM1222 137h1v1h-1zM1222 138h1v1h-1zM1221 139h1v1h-1zM1221 140h1v1h-1zM1221 141h1v1h-1zM1220 142h1v1h-1zM1220 143h1v1h-1zM1219 144h1v1h-1zM1219 145h1v1h-1zM1219 146h1v1h-1zM1218 147h1v1h-1zM1218 148h1v1h-1zM1218 149h1v1h-1zM1217 150h1v1h-1zM1217 151h1v1h-1zM1217 152h1v1h-1zM1216 153h1v1h-1zM1216 154h1v1h-1zM1216 155h1v1h-1zM1215 156h1v1h-1zM1215 157h1v1h-1zM1215 158h1v1h-1zM1215 159h1v1h-1zM1214 160h1v1h-1zM1214 161h1v1h-1zM1214 162h1v1h-1zM1213 163h1v1h-1zM1213 164h1v1h-1zM1213 165h1v1h-1zM1212 166h1v1h-1zM1212 167h1v1h-1zM1212 168h1v1h-1zM1211 169h1v1h-1zM1211 170h1v1h-1zM1211 171h1v1h-1zM1210 172h1v1h-1zM1210 173h1v1h-1zM1210 174h1v1h-1zM1210 175h1v1h-1zM1209 176h1v1h-1zM1209 177h1v1h-1zM1209 178h1v1h-1zM1209 179h1v1h-1zM1208 180h1v1h-1zM1208 181h1v1h-1zM1208 182h1v1h-1zM1208 183h1v1h-1zM1207 184h1v1h-1zM1207 185h1v1h-1zM1207 186h1v1h-1zM1206 187h1v1h-1zM1206 188h1v1h-1zM1206 189h1v1h-1zM1206 190h1v1h-1zM1205 191h1v1h-1zM1205 192h1v1h-1zM1205 193h1v1h-1zM1205 194h1v1h-1zM1204 195h1v1h-1zM1204 196h1v1h-1zM1204 197h1v1h-1zM1204 198h1v1h-1zM1203 199h1v1h-1zM1203 200h1v1h-1zM1203 201h1v1h-1zM1202 202h1v1h-1zM1202 203h1v1h-1zM1202 204h1v1h-1zM1202 205h1v1h-1zM1201 206h1v1h-1zM1201 207h1v1h-1zM1201 208h1v1h-1zM1200 209h1v1h-1zM1200 210h1v1h-1zM1200 211h1v1h-1zM1200 212h1v1h-1zM1199 213h1v1h-1zM1199 214h1v1h-1zM1199 215h1v1h-1zM1198 216h1v1h-1zM1198 217h1v1h-1zM1198 218h1v1h-1zM1198 219h1v1h-1zM1197 220h1v1h-1zM1197 221h1v1h-1zM1197 222h1v1h-1zM1196 223h1v1h-1zM1196 224h1v1h-1zM1196 225h1v1h-1zM1196 226h1v1h-1zM1195 227h1v1h-1zM1195 228h1v1h-1zM1195 229h1v1h-1zM1194 230h1v1h-1zM1194 231h1v1h-1zM1194 232h1v1h-1zM1194 233h1v1h-1zM1193 234h1v1h-1zM1193 235h1v1h-1zM1193 236h1v1h-1zM1192 237h1v1h-1zM1192 238h1v1h-1zM1192 239h1v1h-1zM1191 240h1v1h-1zM1191 241h1v1h-1zM1191 242h1v1h-1zM1191 243h1v1h-1zM1190 244h1v1h-1zM1190 245h1v1h-1zM1190 246h1v1h-1zM1189 247h1v1h-1zM1189 248h1v1h-1zM1189 249h1v1h-1zM1188 250h1v1h-1zM1188 251h1v1h-1zM1188 252h1v1h-1zM1188 253h1v1h-1zM1187 254h1v1h-1zM1187 255h1v1h-1zM1187 256h1v1h-1zM1187 257h1v1h-1zM1186 258h1v1h-1zM1186 259h1v1h-1zM1186 260h1v1h-1zM1186 261h1v1h-1zM1186 262h1v1h-1zM1185 263h1v1h-1zM1185 264h1v1h-1zM1185 265h1v1h-1zM1185 266h1v1h-1zM1184 267h1v1h-1zM1184 268h1v1h-1zM1184 269h1v1h-1zM1184 270h1v1h-1zM1184 271h1v1h-1zM903 272h5v1h-5zM1183 272h1v1h-1zM895 273h8v1h-8zM908 273h1v1h-1zM1183 273h1v1h-1zM887 274h8v1h-8zM909 274h1v1h-1zM1183 274h1v1h-1zM865 275h4v1h-4zM881 275h6v1h-6zM910 275h1v1h-1zM1183 275h1v1h-1zM775 276h6v1h-6zM861 276h4v1h-4zM869 276h4v1h-4zM877 276h4v1h-4zM911 276h2v1h-2zM1183 276h1v1h-1zM770 277h5v1h-5zM781 277h2v1h-2zM857 277h4v1h-4zM873 277h4v1h-4zM913 277h1v1h-1zM1182 277h1v1h-1zM767 278h3v1h-3zM783 278h3v1h-3zM853 278h4v1h-4zM914 278h1v1h-1zM1182 278h1v1h-1zM765 279h2v1h-2zM786 279h3v1h-3zM849 279h4v1h-4zM915 279h1v1h-1zM1182 279h1v1h-1zM762 280h3v1h-3zM789 280h2v1h-2zM845 280h4v1h-4zM916 280h1v1h-1zM1182 280h1v1h-1zM759 281h3v1h-3zM791 281h3v1h-3zM841 281h4v1h-4zM917 281h1v1h-1zM1182 281h1v1h-1zM757 282h2v1h-2zM794 282h3v1h-3zM837 282h4v1h-4zM918 282h1v1h-1zM1181 282h1v1h-1zM755 283h2v1h-2zM797 283h4v1h-4zM807 283h16v1h-16zM831 283h6v1h-6zM919 283h1v1h-1zM1181 283h1v1h-1zM754 284h1v1h-1zM801 284h6v1h-6zM823 284h8v1h-8zM920 284h1v1h-1zM1181 284h1v1h-1zM754 285h1v1h-1zM921 285h1v1h-1zM1181 285h1v1h-1zM753 286h1v1h-1zM922 286h1v1h-1zM1180 286h1v1h-1zM752 287h1v1h-1zM923 287h1v1h-1zM1180 287h1v1h-1zM752 288h1v1h-1zM924 288h1v1h-1zM1180 288h1v1h-1zM751 289h1v1h-1zM925 289h1v1h-1zM1180 289h1v1h-1zM750 290h1v1h-1zM925 290h1v1h-1zM1180 290h1v1h-1zM750 291h1v1h-1zM926 291h1v1h-1zM1179 291h1v1h-1zM749 292h1v1h-1zM927 292h1v1h-1zM1179 292h1v1h-1zM748 293h1v1h-1zM928 293h1v1h-1zM1179 293h1v1h-1zM748 294h1v1h-1zM929 294h1v1h-1zM1178 294h1v1h-1zM747 295h1v1h-1zM929 295h1v1h-1zM1178 295h1v1h-1zM746 296h1v1h-1zM930 296h1v1h-1zM1177 296h1v1h-1zM746 297h1v1h-1zM931 297h1v1h-1zM1177 297h1v1h-1zM745 298h1v1h-1zM932 298h1v1h-1zM1176 298h1v1h-1zM745 299h1v1h-1zM933 299h1v1h-1zM1176 299h1v1h-1zM744 300h1v1h-1zM934 300h1v1h-1zM1175 300h1v1h-1zM744 301h1v1h-1zM935 301h1v1h-1zM1174 301h1v1h-1zM743 302h1v1h-1zM935 302h1v1h-1zM1174 302h1v1h-1zM742 303h1v1h-1zM936 303h1v1h-1zM1173 303h1v1h-1zM742 304h1v1h-1zM937 304h1v1h-1zM1173 304h1v1h-1zM741 305h1v1h-1zM938 305h1v1h-1zM1172 305h1v1h-1zM741 306h1v1h-1zM939 306h1v1h-1zM1172 306h1v1h-1zM740 307h1v1h-1zM940 307h1v1h-1zM1171 307h1v1h-1zM740 308h1v1h-1zM941 308h1v1h-1zM1170 308h1v1h-1zM739 309h1v1h-1zM942 309h1v1h-1zM1170 309h1v1h-1zM739 310h1v1h-1zM943 310h1v1h-1zM1169 310h1v1h-1zM738 311h1v1h-1zM943 311h1v1h-1zM1169 311h1v1h-1zM738 312h1v1h-1zM944 312h1v1h-1zM1168 312h1v1h-1zM737 313h1v1h-1zM945 313h1v1h-1zM1168 313h1v1h-1zM737 314h1v1h-1zM946 314h1v1h-1zM1167 314h1v1h-1zM736 315h1v1h-1zM947 315h1v1h-1zM1166 315h1v1h-1zM736 316h1v1h-1zM948 316h1v1h-1zM1166 316h1v1h-1zM736 317h1v1h-1zM949 317h1v1h-1zM1165 317h1v1h-1zM735 318h1v1h-1zM950 318h1v1h-1zM1165 318h1v1h-1zM735 319h1v1h-1zM951 319h1v1h-1zM1164 319h1v1h-1zM734 320h1v1h-1zM952 320h1v1h-1zM1164 320h1v1h-1zM734 321h1v1h-1zM953 321h1v1h-1zM1162 321h2v1h-2zM734 322h1v1h-1zM954 322h1v1h-1zM1160 322h2v1h-2zM733 323h1v1h-1zM955 323h1v1h-1zM1158 323h2v1h-2zM733 324h1v1h-1zM956 324h1v1h-1zM1156 324h2v1h-2zM732 325h1v1h-1zM957 325h2v1h-2zM1154 325h2v1h-2zM732 326h1v1h-1zM959 326h1v1h-1zM1039 326h30v1h-30zM1151 326h3v1h-3zM731 327h1v1h-1zM960 327h1v1h-1zM1034 327h5v1h-5zM1069 327h4v1h-4zM1149 327h2v1h-2zM731 328h1v1h-1zM961 328h2v1h-2zM1032 328h2v1h-2zM1073 328h4v1h-4zM1143 328h6v1h-6zM731 329h1v1h-1zM963 329h1v1h-1zM1030 329h2v1h-2zM1077 329h4v1h-4zM1135 329h8v1h-8zM730 330h1v1h-1zM964 330h2v1h-2zM1028 330h2v1h-2zM1081 330h4v1h-4zM1111 330h24v1h-24zM730 331h1v1h-1zM966 331h2v1h-2zM1025 331h3v1h-3zM1085 331h2v1h-2zM1103 331h8v1h-8zM729 332h1v1h-1zM968 332h2v1h-2zM1021 332h4v1h-4zM1087 332h3v1h-3zM1095 332h8v1h-8zM729 333h1v1h-1zM970 333h3v1h-3zM1017 333h4v1h-4zM1090 333h5v1h-5zM729 334h1v1h-1zM973 334h2v1h-2zM994 334h13v1h-13zM1013 334h4v1h-4zM728 335h1v1h-1zM975 335h3v1h-3zM991 335h3v1h-3zM1007 335h6v1h-6zM728 336h1v1h-1zM978 336h5v1h-5zM989 336h2v1h-2zM728 337h1v1h-1zM983 337h6v1h-6zM727 338h1v1h-1zM727 339h1v1h-1zM726 340h1v1h-1zM726 341h1v1h-1zM726 342h1v1h-1zM725 343h1v1h-1zM725 344h1v1h-1zM725 345h1v1h-1zM3 346h1v1h-1zM724 346h1v1h-1zM4 347h1v1h-1zM724 347h1v1h-1zM5 348h1v1h-1zM723 348h1v1h-1zM5 349h1v1h-1zM723 349h1v1h-1zM6 350h1v1h-1zM723 350h1v1h-1zM7 351h1v1h-1zM722 351h1v1h-1zM8 352h1v1h-1zM722 352h1v1h-1zM9 353h1v1h-1zM722 353h1v1h-1zM9 354h1v1h-1zM721 354h1v1h-1zM10 355h1v1h-1zM721 355h1v1h-1zM11 356h1v1h-1zM720 356h1v1h-1zM12 357h1v1h-1zM720 357h1v1h-1zM12 358h1v1h-1zM720 358h1v1h-1zM13 359h1v1h-1zM719 359h1v1h-1zM14 360h1v1h-1zM719 360h1v1h-1zM15 361h1v1h-1zM719 361h1v1h-1zM15 362h1v1h-1zM718 362h1v1h-1zM16 363h1v1h-1zM718 363h1v1h-1zM17 364h1v1h-1zM718 364h1v1h-1zM18 365h1v1h-1zM717 365h1v1h-1zM18 366h1v1h-1zM717 366h1v1h-1zM19 367h1v1h-1zM716 367h1v1h-1zM19 368h1v1h-1zM716 368h1v1h-1zM20 369h1v1h-1zM716 369h1v1h-1zM20 370h1v1h-1zM715 370h1v1h-1zM21 371h1v1h-1zM715 371h1v1h-1zM21 372h1v1h-1zM715 372h1v1h-1zM22 373h1v1h-1zM714 373h1v1h-1zM22 374h1v1h-1zM714 374h1v1h-1zM23 375h1v1h-1zM714 375h1v1h-1zM23 376h1v1h-1zM713 376h1v1h-1zM23 377h1v1h-1zM713 377h1v1h-1zM24 378h1v1h-1zM713 378h1v1h-1zM24 379h1v1h-1zM712 379h1v1h-1zM25 380h1v1h-1zM712 380h1v1h-1zM25 381h1v1h-1zM712 381h1v1h-1zM26 382h1v1h-1zM711 382h1v1h-1zM26 383h1v1h-1zM711 383h1v1h-1zM27 384h1v1h-1zM710 384h1v1h-1zM27 385h1v1h-1zM710 385h1v1h-1zM27 386h1v1h-1zM710 386h1v1h-1zM28 387h1v1h-1zM709 387h1v1h-1zM28 388h1v1h-1zM709 388h1v1h-1zM29 389h1v1h-1zM709 389h1v1h-1zM29 390h1v1h-1zM708 390h1v1h-1zM30 391h1v1h-1zM708 391h1v1h-1zM30 392h1v1h-1zM708 392h1v1h-1zM31 393h1v1h-1zM707 393h1v1h-1zM31 394h1v1h-1zM707 394h1v1h-1zM32 395h1v1h-1zM707 395h1v1h-1zM32 396h1v1h-1zM706 396h1v1h-1zM33 397h1v1h-1zM706 397h1v1h-1zM33 398h1v1h-1zM706 398h1v1h-1zM34 399h1v1h-1zM705 399h1v1h-1zM34 400h1v1h-1zM705 400h1v1h-1zM35 401h1v1h-1zM705 401h1v1h-1zM35 402h1v1h-1zM705 402h1v1h-1zM35 403h1v1h-1zM704 403h1v1h-1zM36 404h1v1h-1zM704 404h1v1h-1zM36 405h1v1h-1zM704 405h1v1h-1zM37 406h1v1h-1zM703 406h1v1h-1zM37 407h1v1h-1zM703 407h1v1h-1zM38 408h1v1h-1zM703 408h1v1h-1zM38 409h1v1h-1zM702 409h1v1h-1zM39 410h1v1h-1zM702 410h1v1h-1zM39 411h1v1h-1zM702 411h1v1h-1zM40 412h1v1h-1zM701 412h1v1h-1zM40 413h1v1h-1zM701 413h1v1h-1zM41 414h1v1h-1zM701 414h1v1h-1zM41 415h1v1h-1zM701 415h1v1h-1zM42 416h1v1h-1zM700 416h1v1h-1zM42 417h1v1h-1zM700 417h1v1h-1zM43 418h1v1h-1zM700 418h1v1h-1zM43 419h1v1h-1zM699 419h1v1h-1zM44 420h1v1h-1zM699 420h1v1h-1zM44 421h1v1h-1zM699 421h1v1h-1zM45 422h1v1h-1zM698 422h1v1h-1zM45 423h1v1h-1zM698 423h1v1h-1zM46 424h1v1h-1zM99 424h10v1h-10zM697 424h1v1h-1zM47 425h1v1h-1zM97 425h2v1h-2zM109 425h2v1h-2zM697 425h1v1h-1zM47 426h1v1h-1zM95 426h2v1h-2zM111 426h3v1h-3zM696 426h1v1h-1zM48 427h1v1h-1zM94 427h1v1h-1zM114 427h2v1h-2zM696 427h1v1h-1zM49 428h1v1h-1zM92 428h2v1h-2zM116 428h1v1h-1zM695 428h1v1h-1zM49 429h1v1h-1zM91 429h1v1h-1zM117 429h1v1h-1zM695 429h1v1h-1zM50 430h1v1h-1zM89 430h2v1h-2zM118 430h1v1h-1zM694 430h1v1h-1zM50 431h1v1h-1zM88 431h1v1h-1zM119 431h1v1h-1zM694 431h1v1h-1zM51 432h1v1h-1zM87 432h1v1h-1zM120 432h1v1h-1zM693 432h1v1h-1zM52 433h1v1h-1zM85 433h2v1h-2zM121 433h1v1h-1zM693 433h1v1h-1zM53 434h1v1h-1zM84 434h1v1h-1zM122 434h1v1h-1zM217 434h6v1h-6zM692 434h1v1h-1zM54 435h1v1h-1zM83 435h1v1h-1zM123 435h1v1h-1zM213 435h4v1h-4zM223 435h6v1h-6zM692 435h1v1h-1zM55 436h1v1h-1zM82 436h1v1h-1zM124 436h1v1h-1zM207 436h6v1h-6zM229 436h4v1h-4zM691 436h1v1h-1zM55 437h1v1h-1zM81 437h1v1h-1zM124 437h1v1h-1zM202 437h5v1h-5zM233 437h3v1h-3zM691 437h1v1h-1zM56 438h1v1h-1zM79 438h2v1h-2zM125 438h1v1h-1zM199 438h3v1h-3zM236 438h2v1h-2zM690 438h1v1h-1zM57 439h1v1h-1zM78 439h1v1h-1zM125 439h1v1h-1zM197 439h2v1h-2zM238 439h1v1h-1zM690 439h1v1h-1zM58 440h1v1h-1zM77 440h1v1h-1zM126 440h1v1h-1zM195 440h2v1h-2zM239 440h2v1h-2zM689 440h1v1h-1zM59 441h2v1h-2zM76 441h1v1h-1zM126 441h1v1h-1zM194 441h1v1h-1zM241 441h2v1h-2zM689 441h1v1h-1zM61 442h4v1h-4zM71 442h5v1h-5zM127 442h1v1h-1zM194 442h1v1h-1zM243 442h1v1h-1zM688 442h1v1h-1zM65 443h6v1h-6zM127 443h1v1h-1zM193 443h1v1h-1zM244 443h1v1h-1zM688 443h1v1h-1zM128 444h1v1h-1zM193 444h1v1h-1zM244 444h1v1h-1zM687 444h1v1h-1zM128 445h1v1h-1zM192 445h1v1h-1zM245 445h1v1h-1zM687 445h1v1h-1zM129 446h1v1h-1zM191 446h1v1h-1zM245 446h1v1h-1zM686 446h1v1h-1zM129 447h1v1h-1zM191 447h1v1h-1zM246 447h1v1h-1zM686 447h1v1h-1zM130 448h1v1h-1zM190 448h1v1h-1zM247 448h1v1h-1zM685 448h1v1h-1zM130 449h1v1h-1zM189 449h1v1h-1zM247 449h1v1h-1zM685 449h1v1h-1zM131 450h1v1h-1zM189 450h1v1h-1zM248 450h1v1h-1zM684 450h1v1h-1zM132 451h1v1h-1zM188 451h1v1h-1zM249 451h1v1h-1zM684 451h1v1h-1zM132 452h1v1h-1zM188 452h1v1h-1zM249 452h1v1h-1zM683 452h1v1h-1zM133 453h1v1h-1zM187 453h1v1h-1zM250 453h1v1h-1zM682 453h1v1h-1zM133 454h1v1h-1zM186 454h1v1h-1zM250 454h1v1h-1zM682 454h1v1h-1zM134 455h1v1h-1zM186 455h1v1h-1zM251 455h1v1h-1zM681 455h1v1h-1zM134 456h1v1h-1zM185 456h1v1h-1zM252 456h1v1h-1zM681 456h1v1h-1zM135 457h1v1h-1zM184 457h1v1h-1zM253 457h1v1h-1zM680 457h1v1h-1zM135 458h1v1h-1zM184 458h1v1h-1zM254 458h1v1h-1zM679 458h1v1h-1zM136 459h1v1h-1zM183 459h1v1h-1zM255 459h1v1h-1zM679 459h1v1h-1zM136 460h1v1h-1zM182 460h1v1h-1zM256 460h1v1h-1zM678 460h1v1h-1zM137 461h1v1h-1zM182 461h1v1h-1zM257 461h1v1h-1zM677 461h1v1h-1zM137 462h1v1h-1zM181 462h1v1h-1zM258 462h1v1h-1zM677 462h1v1h-1zM138 463h1v1h-1zM180 463h1v1h-1zM259 463h1v1h-1zM676 463h1v1h-1zM138 464h1v1h-1zM180 464h1v1h-1zM260 464h1v1h-1zM676 464h1v1h-1zM139 465h1v1h-1zM179 465h1v1h-1zM260 465h1v1h-1zM675 465h1v1h-1zM139 466h1v1h-1zM177 466h2v1h-2zM261 466h1v1h-1zM674 466h1v1h-1zM140 467h1v1h-1zM176 467h1v1h-1zM262 467h1v1h-1zM673 467h1v1h-1zM141 468h2v1h-2zM175 468h1v1h-1zM263 468h1v1h-1zM672 468h1v1h-1zM143 469h1v1h-1zM173 469h2v1h-2zM263 469h1v1h-1zM671 469h1v1h-1zM144 470h1v1h-1zM172 470h1v1h-1zM264 470h1v1h-1zM671 470h1v1h-1zM145 471h2v1h-2zM170 471h2v1h-2zM265 471h1v1h-1zM670 471h1v1h-1zM147 472h2v1h-2zM167 472h3v1h-3zM266 472h1v1h-1zM669 472h1v1h-1zM149 473h2v1h-2zM165 473h2v1h-2zM266 473h1v1h-1zM668 473h1v1h-1zM151 474h3v1h-3zM159 474h6v1h-6zM267 474h1v1h-1zM667 474h1v1h-1zM154 475h5v1h-5zM268 475h1v1h-1zM665 475h2v1h-2zM268 476h1v1h-1zM663 476h2v1h-2zM269 477h1v1h-1zM662 477h1v1h-1zM269 478h1v1h-1zM660 478h2v1h-2zM270 479h1v1h-1zM650 479h10v1h-10zM271 480h1v1h-1zM647 480h3v1h-3zM271 481h1v1h-1zM645 481h2v1h-2zM272 482h1v1h-1zM642 482h3v1h-3zM273 483h1v1h-1zM639 483h3v1h-3zM273 484h1v1h-1zM637 484h2v1h-2zM274 485h1v1h-1zM635 485h2v1h-2zM274 486h1v1h-1zM633 486h2v1h-2zM275 487h1v1h-1zM632 487h1v1h-1zM276 488h1v1h-1zM631 488h1v1h-1zM276 489h1v1h-1zM629 489h2v1h-2zM277 490h1v1h-1zM628 490h1v1h-1zM277 491h1v1h-1zM627 491h1v1h-1zM278 492h1v1h-1zM626 492h1v1h-1zM278 493h1v1h-1zM625 493h1v1h-1zM279 494h1v1h-1zM474 494h13v1h-13zM623 494h2v1h-2zM279 495h1v1h-1zM471 495h3v1h-3zM487 495h8v1h-8zM622 495h1v1h-1zM280 496h1v1h-1zM469 496h2v1h-2zM495 496h5v1h-5zM621 496h1v1h-1zM280 497h1v1h-1zM467 497h2v1h-2zM500 497h2v1h-2zM620 497h1v1h-1zM281 498h1v1h-1zM465 498h2v1h-2zM502 498h2v1h-2zM619 498h1v1h-1zM281 499h1v1h-1zM463 499h2v1h-2zM504 499h2v1h-2zM617 499h2v1h-2zM282 500h1v1h-1zM462 500h1v1h-1zM506 500h3v1h-3zM615 500h2v1h-2zM282 501h1v1h-1zM375 501h16v1h-16zM460 501h2v1h-2zM509 501h4v1h-4zM614 501h1v1h-1zM283 502h1v1h-1zM355 502h20v1h-20zM391 502h6v1h-6zM457 502h3v1h-3zM513 502h14v1h-14zM612 502h2v1h-2zM284 503h1v1h-1zM353 503h2v1h-2zM397 503h4v1h-4zM453 503h4v1h-4zM527 503h8v1h-8zM611 503h1v1h-1zM284 504h1v1h-1zM351 504h2v1h-2zM401 504h3v1h-3zM450 504h3v1h-3zM535 504h14v1h-14zM609 504h2v1h-2zM285 505h1v1h-1zM350 505h1v1h-1zM404 505h1v1h-1zM447 505h3v1h-3zM549 505h4v1h-4zM607 505h2v1h-2zM285 506h1v1h-1zM348 506h2v1h-2zM405 506h1v1h-1zM445 506h2v1h-2zM553 506h11v1h-11zM606 506h1v1h-1zM286 507h1v1h-1zM347 507h1v1h-1zM406 507h1v1h-1zM426 507h3v1h-3zM441 507h4v1h-4zM564 507h2v1h-2zM604 507h2v1h-2zM286 508h1v1h-1zM346 508h1v1h-1zM407 508h2v1h-2zM424 508h2v1h-2zM429 508h4v1h-4zM437 508h4v1h-4zM566 508h1v1h-1zM603 508h1v1h-1zM287 509h1v1h-1zM345 509h1v1h-1zM409 509h1v1h-1zM422 509h2v1h-2zM433 509h4v1h-4zM567 509h2v1h-2zM601 509h2v1h-2zM287 510h1v1h-1zM343 510h2v1h-2zM410 510h1v1h-1zM420 510h2v1h-2zM569 510h2v1h-2zM599 510h2v1h-2zM288 511h1v1h-1zM342 511h1v1h-1zM411 511h9v1h-9zM571 511h2v1h-2zM598 511h1v1h-1zM288 512h1v1h-1zM341 512h1v1h-1zM573 512h4v1h-4zM596 512h2v1h-2zM289 513h1v1h-1zM340 513h1v1h-1zM577 513h6v1h-6zM591 513h5v1h-5zM289 514h1v1h-1zM339 514h1v1h-1zM583 514h8v1h-8zM290 515h1v1h-1zM338 515h1v1h-1zM290 516h1v1h-1zM337 516h1v1h-1zM291 517h1v1h-1zM336 517h1v1h-1zM292 518h1v1h-1zM335 518h1v1h-1zM293 519h1v1h-1zM334 519h1v1h-1zM294 520h1v1h-1zM333 520h1v1h-1zM295 521h2v1h-2zM332 521h1v1h-1zM297 522h1v1h-1zM330 522h2v1h-2zM298 523h1v1h-1zM328 523h2v1h-2zM299 524h10v1h-10zM326 524h2v1h-2zM309 525h2v1h-2zM324 525h2v1h-2zM311 526h3v1h-3zM319 526h5v1h-5zM314 527h5v1h-5z" fill="#0000cd"/>
</g>
<polygon points="1129,28 1138,28 1133.5,33" fill="#c0c0c0"/>
<g clip-path="url(#cMacd)" shape-rendering="crispEdges">
<rect x="3" y="630" width="1" height="14" fill="#c0c0c0"/>
<rect x="11" y="630" width="1" height="18" fill="#c0c0c0"/>
<rect x="19" y="630" width="1" height="22" fill="#c0c0c0"/>
<rect x="27" y="630" width="1" height="28" fill="#c0c0c0"/>
<rect x="35" y="630" width="1" height="32" fill="#c0c0c0"/>
<rect x="43" y="630" width="1" height="34" fill="#c0c0c0"/>
<rect x="51" y="630" width="1" height="36" fill="#c0c0c0"/>
<rect x="59" y="630" width="1" height="36" fill="#c0c0c0"/>
<rect x="67" y="630" width="1" height="33" fill="#c0c0c0"/>
<rect x="75" y="630" width="1" height="30" fill="#c0c0c0"/>
<rect x="83" y="630" width="1" height="28" fill="#c0c0c0"/>
<rect x="91" y="630" width="1" height="27" fill="#c0c0c0"/>
<rect x="99" y="630" width="1" height="25" fill="#c0c0c0"/>
<rect x="107" y="630" width="1" height="28" fill="#c0c0c0"/>
<rect x="115" y="630" width="1" height="32" fill="#c0c0c0"/>
<rect x="123" y="630" width="1" height="33" fill="#c0c0c0"/>
<rect x="131" y="630" width="1" height="33" fill="#c0c0c0"/>
<rect x="139" y="630" width="1" height="36" fill="#c0c0c0"/>
<rect x="147" y="630" width="1" height="32" fill="#c0c0c0"/>
<rect x="155" y="630" width="1" height="29" fill="#c0c0c0"/>
<rect x="163" y="630" width="1" height="28" fill="#c0c0c0"/>
<rect x="171" y="630" width="1" height="25" fill="#c0c0c0"/>
<rect x="179" y="630" width="1" height="21" fill="#c0c0c0"/>
<rect x="187" y="630" width="1" height="18" fill="#c0c0c0"/>
<rect x="195" y="630" width="1" height="15" fill="#c0c0c0"/>
<rect x="203" y="630" width="1" height="14" fill="#c0c0c0"/>
<rect x="211" y="630" width="1" height="12" fill="#c0c0c0"/>
<rect x="219" y="630" width="1" height="11" fill="#c0c0c0"/>
<rect x="227" y="630" width="1" height="10" fill="#c0c0c0"/>
<rect x="235" y="630" width="1" height="10" fill="#c0c0c0"/>
<rect x="243" y="630" width="1" height="12" fill="#c0c0c0"/>
<rect x="251" y="630" width="1" height="14" fill="#c0c0c0"/>
<rect x="259" y="630" width="1" height="17" fill="#c0c0c0"/>
<rect x="267" y="630" width="1" height="20" fill="#c0c0c0"/>
<rect x="275" y="630" width="1" height="24" fill="#c0c0c0"/>
<rect x="283" y="630" width="1" height="26" fill="#c0c0c0"/>
<rect x="291" y="630" width="1" height="29" fill="#c0c0c0"/>
<rect x="299" y="630" width="1" height="29" fill="#c0c0c0"/>
<rect x="307" y="630" width="1" height="27" fill="#c0c0c0"/>
<rect x="315" y="630" width="1" height="24" fill="#c0c0c0"/>
<rect x="323" y="630" width="1" height="24" fill="#c0c0c0"/>
<rect x="331" y="630" width="1" height="23" fill="#c0c0c0"/>
<rect x="339" y="630" width="1" height="20" fill="#c0c0c0"/>
<rect x="347" y="630" width="1" height="17" fill="#c0c0c0"/>
<rect x="355" y="630" width="1" height="15" fill="#c0c0c0"/>
<rect x="363" y="630" width="1" height="15" fill="#c0c0c0"/>
<rect x="371" y="630" width="1" height="15" fill="#c0c0c0"/>
<rect x="379" y="630" width="1" height="13" fill="#c0c0c0"/>
<rect x="387" y="630" width="1" height="13" fill="#c0c0c0"/>
<rect x="395" y="630" width="1" height="11" fill="#c0c0c0"/>
<rect x="403" y="630" width="1" height="11" fill="#c0c0c0"/>
<rect x="411" y="630" width="1" height="13" fill="#c0c0c0"/>
<rect x="419" y="630" width="1" height="12" fill="#c0c0c0"/>
<rect x="427" y="630" width="1" height="10" fill="#c0c0c0"/>
<rect x="435" y="630" width="1" height="9" fill="#c0c0c0"/>
<rect x="443" y="630" width="1" height="8" fill="#c0c0c0"/>
<rect x="451" y="630" width="1" height="6" fill="#c0c0c0"/>
<rect x="459" y="630" width="1" height="4" fill="#c0c0c0"/>
<rect x="467" y="630" width="1" height="4" fill="#c0c0c0"/>
<rect x="475" y="630" width="1" height="3" fill="#c0c0c0"/>
<rect x="483" y="630" width="1" height="3" fill="#c0c0c0"/>
<rect x="491" y="630" width="1" height="3" fill="#c0c0c0"/>
<rect x="499" y="630" width="1" height="4" fill="#c0c0c0"/>
<rect x="507" y="630" width="1" height="4" fill="#c0c0c0"/>
<rect x="515" y="630" width="1" height="4" fill="#c0c0c0"/>
<rect x="523" y="630" width="1" height="4" fill="#c0c0c0"/>
<rect x="531" y="630" width="1" height="3" fill="#c0c0c0"/>
<rect x="539" y="630" width="1" height="2" fill="#c0c0c0"/>
<rect x="547" y="630" width="1" height="2" fill="#c0c0c0"/>
<rect x="555" y="630" width="1" height="4" fill="#c0c0c0"/>
<rect x="563" y="630" width="1" height="4" fill="#c0c0c0"/>
<rect x="571" y="630" width="1" height="6" fill="#c0c0c0"/>
<rect x="579" y="630" width="1" height="6" fill="#c0c0c0"/>
<rect x="587" y="630" width="1" height="5" fill="#c0c0c0"/>
<rect x="595" y="630" width="1" height="4" fill="#c0c0c0"/>
<rect x="603" y="630" width="1" height="2" fill="#c0c0c0"/>
<rect x="611" y="630" width="1" height="1" fill="#c0c0c0"/>
<rect x="619" y="629" width="1" height="2" fill="#c0c0c0"/>
<rect x="627" y="628" width="1" height="3" fill="#c0c0c0"/>
<rect x="635" y="627" width="1" height="4" fill="#c0c0c0"/>
<rect x="643" y="627" width="1" height="4" fill="#c0c0c0"/>
<rect x="651" y="626" width="1" height="5" fill="#c0c0c0"/>
<rect x="659" y="626" width="1" height="5" fill="#c0c0c0"/>
<rect x="667" y="622" width="1" height="9" fill="#c0c0c0"/>
<rect x="675" y="618" width="1" height="13" fill="#c0c0c0"/>
<rect x="683" y="615" width="1" height="16" fill="#c0c0c0"/>
<rect x="691" y="610" width="1" height="21" fill="#c0c0c0"/>
<rect x="699" y="605" width="1" height="26" fill="#c0c0c0"/>
<rect x="707" y="596" width="1" height="35" fill="#c0c0c0"/>
<rect x="715" y="591" width="1" height="40" fill="#c0c0c0"/>
<rect x="723" y="587" width="1" height="44" fill="#c0c0c0"/>
<rect x="731" y="582" width="1" height="49" fill="#c0c0c0"/>
<rect x="739" y="578" width="1" height="53" fill="#c0c0c0"/>
<rect x="747" y="577" width="1" height="54" fill="#c0c0c0"/>
<rect x="755" y="576" width="1" height="55" fill="#c0c0c0"/>
<rect x="763" y="576" width="1" height="55" fill="#c0c0c0"/>
<rect x="771" y="577" width="1" height="54" fill="#c0c0c0"/>
<rect x="779" y="580" width="1" height="51" fill="#c0c0c0"/>
<rect x="787" y="583" width="1" height="48" fill="#c0c0c0"/>
<rect x="795" y="585" width="1" height="46" fill="#c0c0c0"/>
<rect x="803" y="586" width="1" height="45" fill="#c0c0c0"/>
<rect x="811" y="587" width="1" height="44" fill="#c0c0c0"/>
<rect x="819" y="589" width="1" height="42" fill="#c0c0c0"/>
<rect x="827" y="592" width="1" height="39" fill="#c0c0c0"/>
<rect x="835" y="594" width="1" height="37" fill="#c0c0c0"/>
<rect x="843" y="596" width="1" height="35" fill="#c0c0c0"/>
<rect x="851" y="598" width="1" height="33" fill="#c0c0c0"/>
<rect x="859" y="599" width="1" height="32" fill="#c0c0c0"/>
<rect x="867" y="599" width="1" height="32" fill="#c0c0c0"/>
<rect x="875" y="602" width="1" height="29" fill="#c0c0c0"/>
<rect x="883" y="604" width="1" height="27" fill="#c0c0c0"/>
<rect x="891" y="606" width="1" height="25" fill="#c0c0c0"/>
<rect x="899" y="607" width="1" height="24" fill="#c0c0c0"/>
<rect x="907" y="609" width="1" height="22" fill="#c0c0c0"/>
<rect x="915" y="613" width="1" height="18" fill="#c0c0c0"/>
<rect x="923" y="617" width="1" height="14" fill="#c0c0c0"/>
<rect x="931" y="622" width="1" height="9" fill="#c0c0c0"/>
<rect x="939" y="626" width="1" height="5" fill="#c0c0c0"/>
<rect x="947" y="629" width="1" height="2" fill="#c0c0c0"/>
<rect x="955" y="630" width="1" height="1" fill="#c0c0c0"/>
<rect x="963" y="630" width="1" height="1" fill="#c0c0c0"/>
<rect x="971" y="630" width="1" height="2" fill="#c0c0c0"/>
<rect x="979" y="630" width="1" height="4" fill="#c0c0c0"/>
<rect x="987" y="630" width="1" height="6" fill="#c0c0c0"/>
<rect x="995" y="630" width="1" height="5" fill="#c0c0c0"/>
<rect x="1003" y="630" width="1" height="5" fill="#c0c0c0"/>
<rect x="1011" y="630" width="1" height="6" fill="#c0c0c0"/>
<rect x="1019" y="630" width="1" height="4" fill="#c0c0c0"/>
<rect x="1027" y="630" width="1" height="3" fill="#c0c0c0"/>
<rect x="1035" y="630" width="1" height="2" fill="#c0c0c0"/>
<rect x="1043" y="630" width="1" height="2" fill="#c0c0c0"/>
<rect x="1051" y="630" width="1" height="2" fill="#c0c0c0"/>
<rect x="1059" y="630" width="1" height="2" fill="#c0c0c0"/>
<rect x="1067" y="630" width="1" height="2" fill="#c0c0c0"/>
<rect x="1075" y="630" width="1" height="2" fill="#c0c0c0"/>
<rect x="1083" y="630" width="1" height="2" fill="#c0c0c0"/>
<rect x="1091" y="630" width="1" height="2" fill="#c0c0c0"/>
<rect x="1099" y="630" width="1" height="2" fill="#c0c0c0"/>
<rect x="1107" y="630" width="1" height="2" fill="#c0c0c0"/>
<rect x="1115" y="630" width="1" height="2" fill="#c0c0c0"/>
<rect x="1123" y="630" width="1" height="2" fill="#c0c0c0"/>
<rect x="1131" y="630" width="1" height="2" fill="#c0c0c0"/>
<rect x="1139" y="630" width="1" height="2" fill="#c0c0c0"/>
<rect x="1147" y="630" width="1" height="1" fill="#c0c0c0"/>
<rect x="1155" y="630" width="1" height="1" fill="#c0c0c0"/>
<rect x="1163" y="630" width="1" height="1" fill="#c0c0c0"/>
<rect x="1171" y="623" width="1" height="8" fill="#c0c0c0"/>
<rect x="1179" y="618" width="1" height="13" fill="#c0c0c0"/>
<rect x="1187" y="602" width="1" height="29" fill="#c0c0c0"/>
<rect x="1195" y="595" width="1" height="36" fill="#c0c0c0"/>
<rect x="1203" y="588" width="1" height="43" fill="#c0c0c0"/>
<rect x="1211" y="583" width="1" height="48" fill="#c0c0c0"/>
<rect x="1219" y="579" width="1" height="52" fill="#c0c0c0"/>
<rect x="1227" y="576" width="1" height="55" fill="#c0c0c0"/>
<rect x="1235" y="575" width="1" height="56" fill="#c0c0c0"/>
<path d="M791 578h1v1h-1zM795 578h3v1h-3zM783 579h3v1h-3zM789 579h2v1h-2zM801 579h3v1h-3zM777 580h3v1h-3zM807 580h3v1h-3zM813 580h2v1h-2zM773 581h1v1h-1zM815 581h1v1h-1zM819 581h2v1h-2zM771 582h2v1h-2zM821 582h1v1h-1zM767 583h1v1h-1zM825 583h3v1h-3zM765 584h2v1h-2zM831 584h2v1h-2zM833 585h1v1h-1zM760 586h2v1h-2zM837 586h3v1h-3zM759 587h1v1h-1zM843 587h2v1h-2zM845 588h1v1h-1zM754 589h2v1h-2zM849 589h3v1h-3zM753 590h1v1h-1zM855 590h2v1h-2zM857 591h1v1h-1zM861 591h2v1h-2zM748 592h2v1h-2zM863 592h1v1h-1zM867 592h2v1h-2zM1235 592h1v1h-1zM747 593h1v1h-1zM869 593h1v1h-1zM1234 593h1v1h-1zM873 594h3v1h-3zM1233 594h1v1h-1zM743 595h1v1h-1zM879 595h2v1h-2zM742 596h1v1h-1zM881 596h1v1h-1zM741 597h1v1h-1zM885 597h3v1h-3zM1229 597h1v1h-1zM891 598h3v1h-3zM1228 598h1v1h-1zM736 599h2v1h-2zM897 599h3v1h-3zM1227 599h1v1h-1zM735 600h1v1h-1zM903 600h2v1h-2zM905 601h1v1h-1zM731 602h1v1h-1zM909 602h3v1h-3zM1223 602h1v1h-1zM729 603h2v1h-2zM915 603h2v1h-2zM1222 603h1v1h-1zM917 604h1v1h-1zM1221 604h1v1h-1zM921 605h3v1h-3zM724 606h2v1h-2zM723 607h1v1h-1zM927 607h3v1h-3zM1217 607h1v1h-1zM1216 608h1v1h-1zM718 609h2v1h-2zM933 609h2v1h-2zM1215 609h1v1h-1zM717 610h1v1h-1zM935 610h1v1h-1zM939 611h2v1h-2zM712 612h2v1h-2zM941 612h1v1h-1zM1210 612h2v1h-2zM711 613h1v1h-1zM945 613h1v1h-1zM1209 613h1v1h-1zM946 614h2v1h-2zM706 615h2v1h-2zM1204 615h2v1h-2zM705 616h1v1h-1zM951 616h3v1h-3zM1203 616h1v1h-1zM700 618h2v1h-2zM957 618h3v1h-3zM1199 618h1v1h-1zM699 619h1v1h-1zM963 619h2v1h-2zM1198 619h1v1h-1zM693 620h3v1h-3zM965 620h1v1h-1zM1197 620h1v1h-1zM689 621h1v1h-1zM969 621h1v1h-1zM687 622h2v1h-2zM970 622h2v1h-2zM1193 622h1v1h-1zM681 623h3v1h-3zM1191 623h2v1h-2zM677 624h1v1h-1zM975 624h1v1h-1zM675 625h2v1h-2zM976 625h2v1h-2zM669 626h3v1h-3zM1186 626h2v1h-2zM663 627h3v1h-3zM981 627h3v1h-3zM1185 627h1v1h-1zM657 628h3v1h-3zM987 628h2v1h-2zM653 629h1v1h-1zM989 629h1v1h-1zM1180 629h2v1h-2zM641 630h1v1h-1zM645 630h3v1h-3zM651 630h2v1h-2zM993 630h1v1h-1zM1175 630h1v1h-1zM1179 630h1v1h-1zM639 631h2v1h-2zM994 631h2v1h-2zM1167 631h3v1h-3zM1173 631h2v1h-2zM623 632h1v1h-1zM627 632h3v1h-3zM633 632h3v1h-3zM999 632h3v1h-3zM1005 632h2v1h-2zM1161 632h3v1h-3zM527 633h1v1h-1zM531 633h3v1h-3zM537 633h3v1h-3zM543 633h3v1h-3zM549 633h2v1h-2zM615 633h3v1h-3zM621 633h2v1h-2zM1007 633h1v1h-1zM1011 633h3v1h-3zM1127 633h1v1h-1zM1131 633h3v1h-3zM1137 633h3v1h-3zM1143 633h3v1h-3zM1149 633h3v1h-3zM1155 633h3v1h-3zM503 634h1v1h-1zM507 634h3v1h-3zM513 634h3v1h-3zM519 634h3v1h-3zM525 634h2v1h-2zM551 634h1v1h-1zM555 634h3v1h-3zM561 634h3v1h-3zM567 634h3v1h-3zM573 634h3v1h-3zM579 634h3v1h-3zM585 634h3v1h-3zM591 634h3v1h-3zM597 634h3v1h-3zM603 634h3v1h-3zM609 634h3v1h-3zM1017 634h3v1h-3zM1023 634h3v1h-3zM1029 634h3v1h-3zM1035 634h3v1h-3zM1041 634h3v1h-3zM1047 634h3v1h-3zM1053 634h3v1h-3zM1059 634h3v1h-3zM1065 634h3v1h-3zM1071 634h3v1h-3zM1077 634h3v1h-3zM1083 634h3v1h-3zM1089 634h3v1h-3zM1095 634h3v1h-3zM1101 634h3v1h-3zM1107 634h3v1h-3zM1113 634h3v1h-3zM1119 634h3v1h-3zM1125 634h2v1h-2zM495 635h3v1h-3zM501 635h2v1h-2zM489 636h3v1h-3zM479 637h1v1h-1zM483 637h3v1h-3zM471 638h3v1h-3zM477 638h2v1h-2zM455 639h1v1h-1zM459 639h3v1h-3zM465 639h3v1h-3zM3 640h3v1h-3zM447 640h3v1h-3zM453 640h2v1h-2zM9 641h3v1h-3zM441 641h3v1h-3zM15 642h3v1h-3zM431 642h1v1h-1zM435 642h3v1h-3zM21 643h2v1h-2zM249 643h3v1h-3zM255 643h3v1h-3zM261 643h2v1h-2zM417 643h3v1h-3zM423 643h3v1h-3zM429 643h2v1h-2zM23 644h1v1h-1zM243 644h3v1h-3zM263 644h1v1h-1zM267 644h3v1h-3zM407 644h1v1h-1zM411 644h3v1h-3zM27 645h2v1h-2zM237 645h3v1h-3zM273 645h3v1h-3zM399 645h3v1h-3zM405 645h2v1h-2zM29 646h1v1h-1zM231 646h3v1h-3zM279 646h2v1h-2zM393 646h3v1h-3zM33 647h3v1h-3zM226 647h2v1h-2zM281 647h1v1h-1zM285 647h2v1h-2zM389 647h1v1h-1zM225 648h1v1h-1zM287 648h1v1h-1zM291 648h2v1h-2zM383 648h1v1h-1zM387 648h2v1h-2zM39 649h3v1h-3zM221 649h1v1h-1zM293 649h1v1h-1zM375 649h3v1h-3zM381 649h2v1h-2zM219 650h2v1h-2zM297 650h3v1h-3zM369 650h3v1h-3zM45 651h2v1h-2zM213 651h3v1h-3zM303 651h2v1h-2zM365 651h1v1h-1zM47 652h1v1h-1zM209 652h1v1h-1zM305 652h1v1h-1zM359 652h1v1h-1zM363 652h2v1h-2zM51 653h2v1h-2zM207 653h2v1h-2zM309 653h3v1h-3zM351 653h3v1h-3zM357 653h2v1h-2zM53 654h1v1h-1zM201 654h3v1h-3zM315 654h3v1h-3zM345 654h3v1h-3zM57 655h1v1h-1zM197 655h1v1h-1zM321 655h3v1h-3zM327 655h3v1h-3zM333 655h3v1h-3zM339 655h3v1h-3zM58 656h2v1h-2zM195 656h2v1h-2zM63 657h2v1h-2zM189 657h3v1h-3zM65 658h1v1h-1zM183 658h3v1h-3zM69 659h3v1h-3zM119 659h1v1h-1zM123 659h3v1h-3zM129 659h3v1h-3zM177 659h3v1h-3zM75 660h3v1h-3zM111 660h3v1h-3zM117 660h2v1h-2zM135 660h3v1h-3zM141 660h3v1h-3zM147 660h3v1h-3zM153 660h3v1h-3zM159 660h3v1h-3zM165 660h3v1h-3zM171 660h3v1h-3zM81 661h3v1h-3zM87 661h3v1h-3zM93 661h3v1h-3zM99 661h3v1h-3zM105 661h3v1h-3z" fill="#ff0000"/>
</g>
<g clip-path="url(#cRsi)" shape-rendering="crispEdges">
<line x1="4" y1="713.5" x2="1418" y2="713.5" stroke="#c0c0c0" stroke-dasharray="3,3"/>
<line x1="4" y1="764.5" x2="1418" y2="764.5" stroke="#c0c0c0" stroke-dasharray="3,3"/>
<path d="M1187 689h1v1h-1zM1187 690h1v1h-1zM1186 691h1v1h-1zM1188 691h1v1h-1zM1186 692h1v1h-1zM1188 692h1v1h-1zM1185 693h1v1h-1zM1188 693h1v1h-1zM1185 694h1v1h-1zM1189 694h1v1h-1zM1184 695h1v1h-1zM1189 695h1v1h-1zM707 696h1v1h-1zM1184 696h1v1h-1zM1189 696h1v1h-1zM706 697h1v1h-1zM708 697h2v1h-2zM1183 697h1v1h-1zM1190 697h1v1h-1zM705 698h1v1h-1zM710 698h1v1h-1zM735 698h5v1h-5zM1183 698h1v1h-1zM1190 698h1v1h-1zM704 699h1v1h-1zM711 699h2v1h-2zM729 699h6v1h-6zM740 699h2v1h-2zM1182 699h1v1h-1zM1190 699h1v1h-1zM703 700h1v1h-1zM713 700h2v1h-2zM725 700h4v1h-4zM742 700h2v1h-2zM1182 700h1v1h-1zM1191 700h1v1h-1zM703 701h1v1h-1zM715 701h10v1h-10zM744 701h2v1h-2zM1181 701h1v1h-1zM1191 701h1v1h-1zM702 702h1v1h-1zM746 702h2v1h-2zM1181 702h1v1h-1zM1191 702h1v1h-1zM701 703h1v1h-1zM748 703h2v1h-2zM762 703h2v1h-2zM1180 703h1v1h-1zM1191 703h1v1h-1zM700 704h1v1h-1zM750 704h2v1h-2zM759 704h3v1h-3zM764 704h1v1h-1zM1180 704h1v1h-1zM1192 704h1v1h-1zM695 705h5v1h-5zM752 705h2v1h-2zM757 705h2v1h-2zM765 705h2v1h-2zM1177 705h3v1h-3zM1192 705h1v1h-1zM691 706h4v1h-4zM754 706h3v1h-3zM767 706h1v1h-1zM1173 706h4v1h-4zM1192 706h1v1h-1zM690 707h1v1h-1zM768 707h1v1h-1zM1171 707h2v1h-2zM1193 707h1v1h-1zM689 708h1v1h-1zM769 708h2v1h-2zM1171 708h1v1h-1zM1193 708h1v1h-1zM687 709h2v1h-2zM771 709h1v1h-1zM1170 709h1v1h-1zM1193 709h1v1h-1zM1223 709h5v1h-5zM686 710h1v1h-1zM772 710h2v1h-2zM809 710h4v1h-4zM1170 710h1v1h-1zM1194 710h1v1h-1zM1202 710h3v1h-3zM1217 710h6v1h-6zM1228 710h2v1h-2zM685 711h1v1h-1zM774 711h1v1h-1zM805 711h4v1h-4zM813 711h4v1h-4zM1169 711h1v1h-1zM1194 711h1v1h-1zM1200 711h2v1h-2zM1205 711h4v1h-4zM1213 711h4v1h-4zM1230 711h2v1h-2zM684 712h1v1h-1zM775 712h2v1h-2zM801 712h4v1h-4zM817 712h3v1h-3zM1169 712h1v1h-1zM1194 712h1v1h-1zM1198 712h2v1h-2zM1209 712h4v1h-4zM1232 712h2v1h-2zM682 713h2v1h-2zM777 713h2v1h-2zM797 713h4v1h-4zM820 713h1v1h-1zM859 713h9v1h-9zM1168 713h1v1h-1zM1195 713h3v1h-3zM1234 713h2v1h-2zM679 714h3v1h-3zM779 714h2v1h-2zM794 714h3v1h-3zM821 714h1v1h-1zM857 714h2v1h-2zM868 714h1v1h-1zM1168 714h1v1h-1zM1195 714h1v1h-1zM677 715h2v1h-2zM781 715h2v1h-2zM791 715h3v1h-3zM822 715h1v1h-1zM855 715h2v1h-2zM868 715h1v1h-1zM1167 715h1v1h-1zM671 716h6v1h-6zM783 716h3v1h-3zM789 716h2v1h-2zM823 716h1v1h-1zM854 716h1v1h-1zM869 716h1v1h-1zM1167 716h1v1h-1zM667 717h4v1h-4zM786 717h3v1h-3zM824 717h1v1h-1zM852 717h2v1h-2zM870 717h1v1h-1zM1166 717h1v1h-1zM667 718h1v1h-1zM825 718h1v1h-1zM839 718h13v1h-13zM871 718h1v1h-1zM1166 718h1v1h-1zM666 719h1v1h-1zM826 719h1v1h-1zM831 719h8v1h-8zM871 719h1v1h-1zM1165 719h1v1h-1zM666 720h1v1h-1zM827 720h4v1h-4zM872 720h1v1h-1zM1165 720h1v1h-1zM665 721h1v1h-1zM873 721h1v1h-1zM897 721h4v1h-4zM1164 721h1v1h-1zM665 722h1v1h-1zM874 722h1v1h-1zM893 722h4v1h-4zM901 722h4v1h-4zM1164 722h1v1h-1zM664 723h1v1h-1zM874 723h1v1h-1zM879 723h14v1h-14zM905 723h3v1h-3zM1163 723h1v1h-1zM664 724h1v1h-1zM875 724h4v1h-4zM907 724h1v1h-1zM1163 724h1v1h-1zM663 725h1v1h-1zM908 725h1v1h-1zM1162 725h1v1h-1zM663 726h1v1h-1zM908 726h1v1h-1zM1161 726h1v1h-1zM610 727h2v1h-2zM662 727h1v1h-1zM909 727h1v1h-1zM1161 727h1v1h-1zM608 728h2v1h-2zM612 728h2v1h-2zM651 728h1v1h-1zM662 728h1v1h-1zM909 728h1v1h-1zM1160 728h1v1h-1zM606 729h2v1h-2zM614 729h2v1h-2zM650 729h1v1h-1zM652 729h2v1h-2zM661 729h1v1h-1zM910 729h1v1h-1zM1159 729h1v1h-1zM604 730h2v1h-2zM616 730h2v1h-2zM649 730h1v1h-1zM654 730h1v1h-1zM661 730h1v1h-1zM910 730h1v1h-1zM1158 730h1v1h-1zM602 731h2v1h-2zM618 731h18v1h-18zM647 731h2v1h-2zM655 731h2v1h-2zM660 731h1v1h-1zM910 731h1v1h-1zM1157 731h1v1h-1zM600 732h2v1h-2zM636 732h2v1h-2zM646 732h1v1h-1zM657 732h2v1h-2zM660 732h1v1h-1zM911 732h1v1h-1zM1147 732h2v1h-2zM1157 732h1v1h-1zM598 733h2v1h-2zM638 733h2v1h-2zM645 733h1v1h-1zM659 733h1v1h-1zM911 733h1v1h-1zM1146 733h1v1h-1zM1149 733h4v1h-4zM1156 733h1v1h-1zM596 734h2v1h-2zM640 734h2v1h-2zM644 734h1v1h-1zM912 734h1v1h-1zM1145 734h1v1h-1zM1153 734h3v1h-3zM451 735h9v1h-9zM595 735h1v1h-1zM642 735h2v1h-2zM912 735h1v1h-1zM1144 735h1v1h-1zM194 736h2v1h-2zM449 736h2v1h-2zM460 736h2v1h-2zM538 736h2v1h-2zM593 736h2v1h-2zM912 736h1v1h-1zM1019 736h2v1h-2zM1033 736h3v1h-3zM1143 736h1v1h-1zM192 737h2v1h-2zM196 737h1v1h-1zM447 737h2v1h-2zM462 737h1v1h-1zM536 737h2v1h-2zM540 737h1v1h-1zM591 737h2v1h-2zM913 737h1v1h-1zM1018 737h1v1h-1zM1021 737h4v1h-4zM1029 737h4v1h-4zM1036 737h1v1h-1zM1142 737h1v1h-1zM190 738h2v1h-2zM197 738h1v1h-1zM427 738h1v1h-1zM446 738h1v1h-1zM463 738h2v1h-2zM481 738h3v1h-3zM534 738h2v1h-2zM541 738h1v1h-1zM590 738h1v1h-1zM913 738h1v1h-1zM1017 738h1v1h-1zM1025 738h4v1h-4zM1037 738h1v1h-1zM1141 738h1v1h-1zM188 739h2v1h-2zM198 739h1v1h-1zM425 739h2v1h-2zM428 739h2v1h-2zM444 739h2v1h-2zM465 739h2v1h-2zM477 739h4v1h-4zM484 739h2v1h-2zM532 739h2v1h-2zM542 739h1v1h-1zM588 739h2v1h-2zM914 739h1v1h-1zM1016 739h1v1h-1zM1038 739h1v1h-1zM1111 739h5v1h-5zM1140 739h1v1h-1zM178 740h10v1h-10zM199 740h1v1h-1zM210 740h5v1h-5zM339 740h4v1h-4zM424 740h1v1h-1zM430 740h2v1h-2zM441 740h3v1h-3zM467 740h10v1h-10zM486 740h1v1h-1zM515 740h17v1h-17zM543 740h1v1h-1zM585 740h3v1h-3zM914 740h1v1h-1zM1015 740h1v1h-1zM1039 740h1v1h-1zM1074 740h3v1h-3zM1098 740h13v1h-13zM1116 740h2v1h-2zM1139 740h1v1h-1zM175 741h3v1h-3zM200 741h1v1h-1zM208 741h2v1h-2zM215 741h6v1h-6zM338 741h1v1h-1zM343 741h13v1h-13zM423 741h1v1h-1zM432 741h2v1h-2zM437 741h4v1h-4zM487 741h2v1h-2zM513 741h2v1h-2zM543 741h1v1h-1zM581 741h4v1h-4zM915 741h1v1h-1zM1015 741h1v1h-1zM1039 741h1v1h-1zM1072 741h2v1h-2zM1077 741h4v1h-4zM1096 741h2v1h-2zM1118 741h1v1h-1zM1137 741h2v1h-2zM173 742h2v1h-2zM201 742h1v1h-1zM206 742h2v1h-2zM221 742h4v1h-4zM337 742h1v1h-1zM356 742h1v1h-1zM379 742h2v1h-2zM394 742h5v1h-5zM421 742h2v1h-2zM434 742h3v1h-3zM489 742h2v1h-2zM495 742h6v1h-6zM511 742h2v1h-2zM544 742h1v1h-1zM562 742h2v1h-2zM579 742h2v1h-2zM915 742h2v1h-2zM995 742h10v1h-10zM1014 742h1v1h-1zM1040 742h1v1h-1zM1057 742h4v1h-4zM1070 742h2v1h-2zM1081 742h4v1h-4zM1094 742h2v1h-2zM1119 742h2v1h-2zM1135 742h2v1h-2zM170 743h3v1h-3zM202 743h1v1h-1zM204 743h2v1h-2zM225 743h6v1h-6zM335 743h2v1h-2zM357 743h1v1h-1zM378 743h1v1h-1zM381 743h2v1h-2zM391 743h3v1h-3zM399 743h5v1h-5zM420 743h1v1h-1zM491 743h4v1h-4zM501 743h2v1h-2zM510 743h1v1h-1zM545 743h1v1h-1zM560 743h2v1h-2zM564 743h1v1h-1zM578 743h1v1h-1zM917 743h4v1h-4zM994 743h1v1h-1zM1005 743h2v1h-2zM1013 743h1v1h-1zM1041 743h1v1h-1zM1053 743h4v1h-4zM1061 743h4v1h-4zM1068 743h2v1h-2zM1085 743h4v1h-4zM1092 743h2v1h-2zM1121 743h2v1h-2zM1134 743h1v1h-1zM155 744h2v1h-2zM168 744h2v1h-2zM203 744h1v1h-1zM231 744h5v1h-5zM334 744h1v1h-1zM358 744h1v1h-1zM377 744h1v1h-1zM383 744h3v1h-3zM389 744h2v1h-2zM404 744h1v1h-1zM419 744h1v1h-1zM503 744h3v1h-3zM508 744h2v1h-2zM546 744h1v1h-1zM558 744h2v1h-2zM564 744h1v1h-1zM578 744h1v1h-1zM921 744h3v1h-3zM954 744h10v1h-10zM994 744h1v1h-1zM1007 744h3v1h-3zM1012 744h1v1h-1zM1042 744h1v1h-1zM1047 744h6v1h-6zM1065 744h3v1h-3zM1089 744h3v1h-3zM1123 744h4v1h-4zM1132 744h2v1h-2zM153 745h2v1h-2zM157 745h2v1h-2zM166 745h2v1h-2zM236 745h1v1h-1zM333 745h1v1h-1zM359 745h2v1h-2zM376 745h1v1h-1zM386 745h3v1h-3zM404 745h1v1h-1zM418 745h1v1h-1zM506 745h2v1h-2zM547 745h4v1h-4zM556 745h2v1h-2zM565 745h1v1h-1zM577 745h1v1h-1zM924 745h1v1h-1zM951 745h3v1h-3zM964 745h2v1h-2zM993 745h1v1h-1zM1010 745h2v1h-2zM1043 745h4v1h-4zM1127 745h5v1h-5zM83 746h1v1h-1zM151 746h2v1h-2zM159 746h3v1h-3zM164 746h2v1h-2zM237 746h1v1h-1zM332 746h1v1h-1zM361 746h1v1h-1zM375 746h1v1h-1zM405 746h1v1h-1zM417 746h1v1h-1zM551 746h5v1h-5zM565 746h1v1h-1zM577 746h1v1h-1zM924 746h1v1h-1zM949 746h2v1h-2zM966 746h2v1h-2zM992 746h1v1h-1zM81 747h2v1h-2zM84 747h1v1h-1zM150 747h1v1h-1zM162 747h2v1h-2zM238 747h1v1h-1zM307 747h2v1h-2zM331 747h1v1h-1zM362 747h1v1h-1zM374 747h1v1h-1zM406 747h1v1h-1zM417 747h1v1h-1zM566 747h1v1h-1zM576 747h1v1h-1zM925 747h1v1h-1zM947 747h2v1h-2zM968 747h2v1h-2zM992 747h1v1h-1zM79 748h2v1h-2zM85 748h2v1h-2zM148 748h2v1h-2zM239 748h1v1h-1zM306 748h1v1h-1zM309 748h2v1h-2zM329 748h2v1h-2zM363 748h2v1h-2zM373 748h1v1h-1zM407 748h1v1h-1zM416 748h1v1h-1zM567 748h1v1h-1zM575 748h1v1h-1zM926 748h1v1h-1zM945 748h2v1h-2zM970 748h3v1h-3zM991 748h1v1h-1zM78 749h1v1h-1zM87 749h1v1h-1zM147 749h1v1h-1zM240 749h1v1h-1zM305 749h1v1h-1zM311 749h3v1h-3zM327 749h2v1h-2zM365 749h4v1h-4zM372 749h1v1h-1zM407 749h1v1h-1zM415 749h1v1h-1zM567 749h1v1h-1zM575 749h1v1h-1zM926 749h1v1h-1zM943 749h2v1h-2zM973 749h4v1h-4zM990 749h1v1h-1zM67 750h4v1h-4zM76 750h2v1h-2zM88 750h1v1h-1zM97 750h3v1h-3zM147 750h1v1h-1zM241 750h1v1h-1zM304 750h1v1h-1zM314 750h3v1h-3zM326 750h1v1h-1zM369 750h3v1h-3zM408 750h1v1h-1zM414 750h1v1h-1zM568 750h1v1h-1zM574 750h1v1h-1zM927 750h1v1h-1zM942 750h1v1h-1zM977 750h3v1h-3zM990 750h1v1h-1zM66 751h1v1h-1zM71 751h5v1h-5zM89 751h2v1h-2zM93 751h4v1h-4zM100 751h1v1h-1zM146 751h1v1h-1zM242 751h1v1h-1zM303 751h1v1h-1zM317 751h4v1h-4zM324 751h2v1h-2zM409 751h1v1h-1zM413 751h1v1h-1zM569 751h1v1h-1zM573 751h1v1h-1zM928 751h1v1h-1zM940 751h2v1h-2zM980 751h2v1h-2zM989 751h1v1h-1zM3 752h1v1h-1zM65 752h1v1h-1zM91 752h2v1h-2zM101 752h1v1h-1zM146 752h1v1h-1zM243 752h1v1h-1zM303 752h1v1h-1zM321 752h3v1h-3zM410 752h1v1h-1zM413 752h1v1h-1zM569 752h1v1h-1zM573 752h1v1h-1zM928 752h1v1h-1zM938 752h2v1h-2zM982 752h2v1h-2zM988 752h1v1h-1zM4 753h1v1h-1zM64 753h1v1h-1zM102 753h1v1h-1zM145 753h1v1h-1zM244 753h2v1h-2zM258 753h2v1h-2zM302 753h1v1h-1zM410 753h1v1h-1zM412 753h1v1h-1zM570 753h1v1h-1zM572 753h1v1h-1zM929 753h1v1h-1zM936 753h2v1h-2zM984 753h2v1h-2zM988 753h1v1h-1zM5 754h1v1h-1zM63 754h1v1h-1zM103 754h1v1h-1zM145 754h1v1h-1zM246 754h1v1h-1zM256 754h2v1h-2zM260 754h2v1h-2zM301 754h1v1h-1zM411 754h1v1h-1zM570 754h1v1h-1zM572 754h1v1h-1zM930 754h1v1h-1zM934 754h2v1h-2zM986 754h2v1h-2zM5 755h1v1h-1zM63 755h1v1h-1zM103 755h1v1h-1zM144 755h1v1h-1zM247 755h2v1h-2zM254 755h2v1h-2zM262 755h2v1h-2zM300 755h1v1h-1zM571 755h1v1h-1zM930 755h1v1h-1zM932 755h2v1h-2zM6 756h1v1h-1zM62 756h1v1h-1zM104 756h1v1h-1zM144 756h1v1h-1zM249 756h2v1h-2zM252 756h2v1h-2zM264 756h2v1h-2zM299 756h1v1h-1zM931 756h1v1h-1zM7 757h1v1h-1zM61 757h1v1h-1zM105 757h1v1h-1zM144 757h1v1h-1zM251 757h1v1h-1zM266 757h2v1h-2zM298 757h1v1h-1zM8 758h1v1h-1zM60 758h1v1h-1zM106 758h1v1h-1zM143 758h1v1h-1zM268 758h2v1h-2zM297 758h1v1h-1zM9 759h1v1h-1zM59 759h1v1h-1zM107 759h10v1h-10zM143 759h1v1h-1zM270 759h2v1h-2zM295 759h2v1h-2zM9 760h1v1h-1zM58 760h1v1h-1zM117 760h4v1h-4zM142 760h1v1h-1zM272 760h2v1h-2zM294 760h1v1h-1zM10 761h1v1h-1zM57 761h1v1h-1zM121 761h3v1h-3zM142 761h1v1h-1zM274 761h11v1h-11zM293 761h1v1h-1zM11 762h1v1h-1zM57 762h1v1h-1zM124 762h1v1h-1zM142 762h1v1h-1zM285 762h4v1h-4zM292 762h1v1h-1zM12 763h2v1h-2zM56 763h1v1h-1zM125 763h1v1h-1zM141 763h1v1h-1zM289 763h3v1h-3zM14 764h2v1h-2zM55 764h1v1h-1zM126 764h1v1h-1zM141 764h1v1h-1zM16 765h2v1h-2zM54 765h1v1h-1zM127 765h1v1h-1zM140 765h1v1h-1zM18 766h2v1h-2zM53 766h1v1h-1zM128 766h1v1h-1zM140 766h1v1h-1zM20 767h2v1h-2zM42 767h3v1h-3zM53 767h1v1h-1zM129 767h1v1h-1zM139 767h1v1h-1zM22 768h1v1h-1zM40 768h2v1h-2zM45 768h4v1h-4zM52 768h1v1h-1zM130 768h1v1h-1zM135 768h5v1h-5zM23 769h2v1h-2zM38 769h2v1h-2zM49 769h3v1h-3zM131 769h4v1h-4zM25 770h2v1h-2zM36 770h2v1h-2zM27 771h9v1h-9z" fill="#1e90ff"/>
</g>
<polygon points="3,797 3,802 8,802" fill="#c0c0c0"/>
<g shape-rendering="crispEdges" fill="#000">
<rect x="2" y="27" width="1417" height="1"/>
<rect x="2" y="27" width="1" height="777"/>
<rect x="1418" y="27" width="1" height="777"/>
<rect x="2" y="566" width="1417" height="1"/>
<rect x="2" y="568" width="1417" height="1"/>
<rect x="2" y="671" width="1417" height="1"/>
<rect x="2" y="673" width="1417" height="1"/>
<rect x="2" y="803" width="1417" height="1"/>
<rect x="1419" y="35" width="2" height="1"/>
<rect x="1419" y="68" width="2" height="1"/>
<rect x="1419" y="101" width="2" height="1"/>
<rect x="1419" y="134" width="2" height="1"/>
<rect x="1419" y="167" width="2" height="1"/>
<rect x="1419" y="200" width="2" height="1"/>
<rect x="1419" y="233" width="2" height="1"/>
<rect x="1419" y="266" width="2" height="1"/>
<rect x="1419" y="299" width="2" height="1"/>
<rect x="1419" y="332" width="2" height="1"/>
<rect x="1419" y="365" width="2" height="1"/>
<rect x="1419" y="398" width="2" height="1"/>
<rect x="1419" y="431" width="2" height="1"/>
<rect x="1419" y="464" width="2" height="1"/>
<rect x="1419" y="497" width="2" height="1"/>
<rect x="1419" y="530" width="2" height="1"/>
<rect x="1419" y="563" width="2" height="1"/>
<rect x="1419" y="570" width="2" height="1"/>
<rect x="1419" y="630" width="2" height="1"/>
<rect x="1419" y="670" width="2" height="1"/>
<rect x="1419" y="675" width="2" height="1"/>
<rect x="3" y="804" width="1" height="3"/>
<rect x="67" y="804" width="1" height="3"/>
<rect x="131" y="804" width="1" height="3"/>
<rect x="195" y="804" width="1" height="3"/>
<rect x="259" y="804" width="1" height="3"/>
<rect x="323" y="804" width="1" height="3"/>
<rect x="387" y="804" width="1" height="3"/>
<rect x="451" y="804" width="1" height="3"/>
<rect x="515" y="804" width="1" height="3"/>
<rect x="579" y="804" width="1" height="3"/>
<rect x="643" y="804" width="1" height="3"/>
<rect x="707" y="804" width="1" height="3"/>
<rect x="771" y="804" width="1" height="3"/>
<rect x="835" y="804" width="1" height="3"/>
<rect x="899" y="804" width="1" height="3"/>
<rect x="963" y="804" width="1" height="3"/>
<rect x="1027" y="804" width="1" height="3"/>
<rect x="1091" y="804" width="1" height="3"/>
<rect x="1155" y="804" width="1" height="3"/>
<rect x="1219" y="804" width="1" height="3"/>
</g>
<g shape-rendering="crispEdges">
<rect x="3" y="93" width="1415" height="3" fill="#ff0000"/><rect x="2" y="91" width="7" height="7" fill="#ff0000"/><rect x="5" y="94" width="1" height="1" fill="#ffffff"/><rect x="1412" y="91" width="7" height="7" fill="#ff0000"/><rect x="1415" y="94" width="1" height="1" fill="#ffffff"/>
<rect x="3" y="199" width="1415" height="3" fill="#00ff00"/><rect x="2" y="197" width="7" height="7" fill="#00ff00"/><rect x="5" y="200" width="1" height="1" fill="#ffffff"/><rect x="1412" y="197" width="7" height="7" fill="#00ff00"/><rect x="1415" y="200" width="1" height="1" fill="#ffffff"/>
<rect x="3" y="306" width="1415" height="3" fill="#0000ff"/><rect x="2" y="304" width="7" height="7" fill="#0000ff"/><rect x="5" y="307" width="1" height="1" fill="#ffffff"/><rect x="1412" y="304" width="7" height="7" fill="#0000ff"/><rect x="1415" y="307" width="1" height="1" fill="#ffffff"/>
<rect x="3" y="390" width="1415" height="3" fill="#0000ff"/><rect x="2" y="388" width="7" height="7" fill="#0000ff"/><rect x="5" y="391" width="1" height="1" fill="#ffffff"/><rect x="1412" y="388" width="7" height="7" fill="#0000ff"/><rect x="1415" y="391" width="1" height="1" fill="#ffffff"/>
</g>
<g font-size="9.8" fill="#000" stroke="#000" stroke-width="0.2">
<text x="1424" y="39" textLength="33.5" lengthAdjust="spacingAndGlyphs">7.15590</text>
<text x="1424" y="72" textLength="33.5" lengthAdjust="spacingAndGlyphs">7.12530</text>
<text x="1424" y="105" textLength="33.5" lengthAdjust="spacingAndGlyphs">7.09470</text>
<text x="1424" y="138" textLength="33.5" lengthAdjust="spacingAndGlyphs">7.06320</text>
<text x="1424" y="171" textLength="33.5" lengthAdjust="spacingAndGlyphs">7.03170</text>
<text x="1424" y="204" textLength="33.5" lengthAdjust="spacingAndGlyphs">7.00020</text>
<text x="1424" y="237" textLength="33.5" lengthAdjust="spacingAndGlyphs">6.96960</text>
<text x="1424" y="270" textLength="33.5" lengthAdjust="spacingAndGlyphs">6.93900</text>
<text x="1424" y="303" textLength="33.5" lengthAdjust="spacingAndGlyphs">6.90750</text>
<text x="1424" y="336" textLength="33.5" lengthAdjust="spacingAndGlyphs">6.87690</text>
<text x="1424" y="369" textLength="33.5" lengthAdjust="spacingAndGlyphs">6.84630</text>
<text x="1424" y="402" textLength="33.5" lengthAdjust="spacingAndGlyphs">6.81480</text>
<text x="1424" y="435" textLength="33.5" lengthAdjust="spacingAndGlyphs">6.78420</text>
<text x="1424" y="468" textLength="33.5" lengthAdjust="spacingAndGlyphs">6.75270</text>
<text x="1424" y="501" textLength="33.5" lengthAdjust="spacingAndGlyphs">6.72210</text>
<text x="1424" y="534" textLength="33.5" lengthAdjust="spacingAndGlyphs">6.69060</text>
<text x="1424" y="567" textLength="33.5" lengthAdjust="spacingAndGlyphs">6.66000</text>
</g>
<rect x="1420" y="88" width="39" height="11" fill="#ff0000" shape-rendering="crispEdges"/><text x="1424" y="97.0" font-size="9.8" fill="#fff" textLength="33" lengthAdjust="spacingAndGlyphs">7.10044</text>
<rect x="1420" y="101" width="39" height="11" fill="#000000" shape-rendering="crispEdges"/><text x="1424" y="110.0" font-size="9.8" fill="#fff" textLength="33" lengthAdjust="spacingAndGlyphs">7.08995</text>
<rect x="1420" y="194" width="39" height="11" fill="#00ff00" shape-rendering="crispEdges"/><text x="1424" y="203.0" font-size="9.8" fill="#fff" textLength="33" lengthAdjust="spacingAndGlyphs">7.00092</text>
<rect x="1420" y="301" width="39" height="11" fill="#0000ff" shape-rendering="crispEdges"/><text x="1424" y="310.0" font-size="9.8" fill="#fff" textLength="33" lengthAdjust="spacingAndGlyphs">6.90046</text>
<rect x="1420" y="385" width="39" height="11" fill="#0000ff" shape-rendering="crispEdges"/><text x="1424" y="394.0" font-size="9.8" fill="#fff" textLength="33" lengthAdjust="spacingAndGlyphs">6.82160</text>
<g font-size="10" fill="#000" stroke="#000" stroke-width="0.2">
<text x="1422" y="578.5" textLength="40" lengthAdjust="spacingAndGlyphs">0.061514</text>
<text x="1422" y="634.2" textLength="19" lengthAdjust="spacingAndGlyphs">0.00</text>
<text x="1421.7" y="667.7" textLength="37" lengthAdjust="spacingAndGlyphs">-0.04047</text>
<text x="1422" y="684.2" textLength="15" lengthAdjust="spacingAndGlyphs">100</text>
<text x="1422" y="717" textLength="10" lengthAdjust="spacingAndGlyphs">70</text>
<text x="1422" y="768" textLength="10" lengthAdjust="spacingAndGlyphs">30</text>
<text x="1422" y="799.5" textLength="5" lengthAdjust="spacingAndGlyphs">0</text>
</g>
<g font-size="10.5" fill="#000" stroke="#000" stroke-width="0.2">
<text x="1.8" y="816.1" textLength="45.3" lengthAdjust="spacingAndGlyphs">8 Jan 2019</text>
<text x="66.3" y="816.1" textLength="49.9" lengthAdjust="spacingAndGlyphs">18 Jan 2019</text>
<text x="129.9" y="816.1" textLength="50.5" lengthAdjust="spacingAndGlyphs">30 Jan 2019</text>
<text x="194.4" y="816.1" textLength="51.6" lengthAdjust="spacingAndGlyphs">11 Feb 2019</text>
<text x="257.7" y="816.1" textLength="52.2" lengthAdjust="spacingAndGlyphs">21 Feb 2019</text>
<text x="321.9" y="816.1" textLength="47.1" lengthAdjust="spacingAndGlyphs">5 Mar 2019</text>
<text x="385.8" y="816.1" textLength="52.3" lengthAdjust="spacingAndGlyphs">15 Mar 2019</text>
<text x="450.0" y="816.1" textLength="52.0" lengthAdjust="spacingAndGlyphs">27 Mar 2019</text>
<text x="513.4" y="816.1" textLength="47.0" lengthAdjust="spacingAndGlyphs">8 Apr 2019</text>
<text x="577.5" y="816.1" textLength="51.1" lengthAdjust="spacingAndGlyphs">18 Apr 2019</text>
<text x="641.5" y="816.1" textLength="50.5" lengthAdjust="spacingAndGlyphs">1 May 2019</text>
<text x="705.6" y="816.1" textLength="55.4" lengthAdjust="spacingAndGlyphs">13 May 2019</text>
<text x="769.6" y="816.1" textLength="55.7" lengthAdjust="spacingAndGlyphs">23 May 2019</text>
<text x="833.5" y="816.1" textLength="45.6" lengthAdjust="spacingAndGlyphs">4 Jun 2019</text>
<text x="897.7" y="816.1" textLength="50.5" lengthAdjust="spacingAndGlyphs">14 Jun 2019</text>
<text x="961.9" y="816.1" textLength="50.5" lengthAdjust="spacingAndGlyphs">26 Jun 2019</text>
<text x="1025.8" y="816.1" textLength="42.1" lengthAdjust="spacingAndGlyphs">8 Jul 2019</text>
<text x="1090.0" y="816.1" textLength="47.0" lengthAdjust="spacingAndGlyphs">18 Jul 2019</text>
<text x="1153.5" y="816.1" textLength="48.0" lengthAdjust="spacingAndGlyphs">30 Jul 2019</text>
<text x="1217.5" y="816.1" textLength="48.7" lengthAdjust="spacingAndGlyphs">9 Aug 2019</text>
</g>
<polygon points="6.5,38 13,38 9.75,33.5" fill="#000"/>
<text x="18" y="39" font-size="10" fill="#000" textLength="68.5" lengthAdjust="spacingAndGlyphs">USDCNH-,Daily</text>
<text x="92.5" y="39" font-size="10" fill="#000" textLength="141.5" lengthAdjust="spacingAndGlyphs">7.09672 7.09999 7.08795 7.08995</text>
<text x="7" y="581.3" font-size="10" fill="#000" textLength="148" lengthAdjust="spacingAndGlyphs">MACD(12,26,9) 0.056878 0.038474</text>
<text x="7" y="686.3" font-size="10" fill="#000" textLength="68" lengthAdjust="spacingAndGlyphs">RSI(14) 70.8797</text>
<g shape-rendering="crispEdges">
<rect x="4" y="47" width="222" height="64" fill="#ffffff"/>
<rect x="6" y="47" width="52" height="25" fill="#a80000"/>
<rect x="7" y="48" width="50" height="23" fill="url(#gTop)"/>
<rect x="173" y="47" width="52" height="25" fill="#a80000"/>
<rect x="174" y="48" width="50" height="23" fill="url(#gTop)"/>
<rect x="6" y="71" width="109" height="40" fill="#b00000"/>
<rect x="7" y="71" width="107" height="39" fill="url(#gBot)"/>
<rect x="117" y="71" width="108" height="40" fill="#b00000"/>
<rect x="118" y="71" width="106" height="39" fill="url(#gBot)"/>
<rect x="10" y="70" width="45" height="1" fill="#6a0000"/><rect x="10" y="71" width="45" height="1" fill="#f25555"/>
<rect x="177" y="70" width="45" height="1" fill="#6a0000"/><rect x="177" y="71" width="45" height="1" fill="#f25555"/>
<rect x="60" y="47" width="111" height="22" fill="#a8abb2"/>
<rect x="61" y="48" width="109" height="20" fill="#ffffff"/>
<rect x="61" y="48" width="20" height="20" fill="url(#gBtn)"/>
<rect x="81" y="48" width="1" height="20" fill="#b4b4b4"/>
<rect x="150" y="48" width="20" height="20" fill="url(#gBtn)"/>
<rect x="149" y="48" width="1" height="20" fill="#b4b4b4"/>
</g>
<polygon points="68,56 73.5,56 70.75,59" fill="#6478c8"/>
<polygon points="157,59 162.5,59 159.75,56" fill="#6478c8"/>
<text x="122.5" y="62" font-size="11.5" fill="#000" textLength="24" lengthAdjust="spacingAndGlyphs">1.00</text>
<g fill="#fff">
<text x="18" y="63.3" font-size="12" textLength="26.5" lengthAdjust="spacingAndGlyphs">SELL</text>
<text x="186.5" y="63.3" font-size="12" textLength="23.5" lengthAdjust="spacingAndGlyphs">BUY</text>
<text x="25.5" y="101.8" font-size="12" font-weight="bold" textLength="24.5" lengthAdjust="spacingAndGlyphs">7.08</text>
<text x="135.5" y="101.8" font-size="12" font-weight="bold" textLength="24" lengthAdjust="spacingAndGlyphs">7.09</text>
<text x="53" y="101" font-size="33.5" textLength="35.5" lengthAdjust="spacingAndGlyphs" stroke="#c81c1c" stroke-width="0.5">99</text>
<text x="164.5" y="101" font-size="33.5" textLength="34.5" lengthAdjust="spacingAndGlyphs" stroke="#c81c1c" stroke-width="0.5">25</text>
<text x="93" y="85.8" font-size="12" font-weight="bold" textLength="7" lengthAdjust="spacingAndGlyphs">5</text>
<text x="203.5" y="85.8" font-size="12" font-weight="bold" textLength="8" lengthAdjust="spacingAndGlyphs">0</text>
</g>
<g shape-rendering="crispEdges">
<rect x="0" y="824" width="1459" height="1" fill="#e3e3e3"/>
<rect x="0" y="825" width="1459" height="1" fill="#ffffff"/>
<rect x="0" y="826" width="1459" height="1" fill="#000000"/>
<rect x="0" y="827" width="1459" height="1" fill="#ffffff"/>
<rect x="0" y="828" width="1459" height="17" fill="#f0f0f0"/>
<rect x="436" y="826" width="112" height="19" fill="#000000"/>
<rect x="437" y="826" width="110" height="18" fill="#ffffff"/>
<rect x="435" y="827" width="1" height="18" fill="#ffffff"/><rect x="548" y="827" width="1" height="18" fill="#ffffff"/>
<rect x="1419" y="802" width="1" height="1" fill="#000"/>
<rect x="112" y="829" width="1" height="15" fill="#646464"/>
<rect x="220" y="829" width="1" height="15" fill="#646464"/>
<rect x="328" y="829" width="1" height="15" fill="#646464"/>
<rect x="668" y="829" width="1" height="15" fill="#646464"/>
<rect x="792" y="829" width="1" height="15" fill="#646464"/>
<rect x="888" y="829" width="1" height="15" fill="#646464"/>
<rect x="968" y="829" width="1" height="15" fill="#646464"/>
<rect x="1073" y="829" width="1" height="15" fill="#646464"/>
</g>
<text x="14.7" y="841" font-size="12.4" fill="#666666" textLength="85.8" lengthAdjust="spacingAndGlyphs">EURUSD-,Daily</text>
<text x="121.5" y="841" font-size="12.4" fill="#666666" textLength="88.3" lengthAdjust="spacingAndGlyphs">AUDUSD-,Daily</text>
<text x="231.3" y="841" font-size="12.4" fill="#666666" textLength="85.1" lengthAdjust="spacingAndGlyphs">USDCHF-,Daily</text>
<text x="338.8" y="841" font-size="12.4" fill="#666666" textLength="86.8" lengthAdjust="spacingAndGlyphs">USDCAD-,Daily</text>
<text x="447.8" y="841" font-size="12.4" fill="#000000" textLength="88.8" lengthAdjust="spacingAndGlyphs">USDCNH-,Daily</text>
<text x="558.9" y="841" font-size="12.4" fill="#666666" textLength="97.4" lengthAdjust="spacingAndGlyphs">EURCHF-,Weekly</text>
<text x="679.5" y="841" font-size="12.4" fill="#666666" textLength="100.6" lengthAdjust="spacingAndGlyphs">XAUUSD-,Weekly</text>
<text x="802.5" y="841" font-size="12.4" fill="#666666" textLength="73.4" lengthAdjust="spacingAndGlyphs">GBPUSD-,H1</text>
<text x="898.9" y="841" font-size="12.4" fill="#666666" textLength="57.3" lengthAdjust="spacingAndGlyphs">UKOil-,H1</text>
<text x="977.5" y="841" font-size="12.4" fill="#666666" textLength="83.2" lengthAdjust="spacingAndGlyphs">USDX-,Weekly</text>
<polygon points="1434,835 1437.5,831.5 1437.5,838.5" fill="#8c8c8c"/>
<polygon points="1456,835 1452.5,831.5 1452.5,838.5" fill="#8c8c8c"/>
</svg></body></html>
